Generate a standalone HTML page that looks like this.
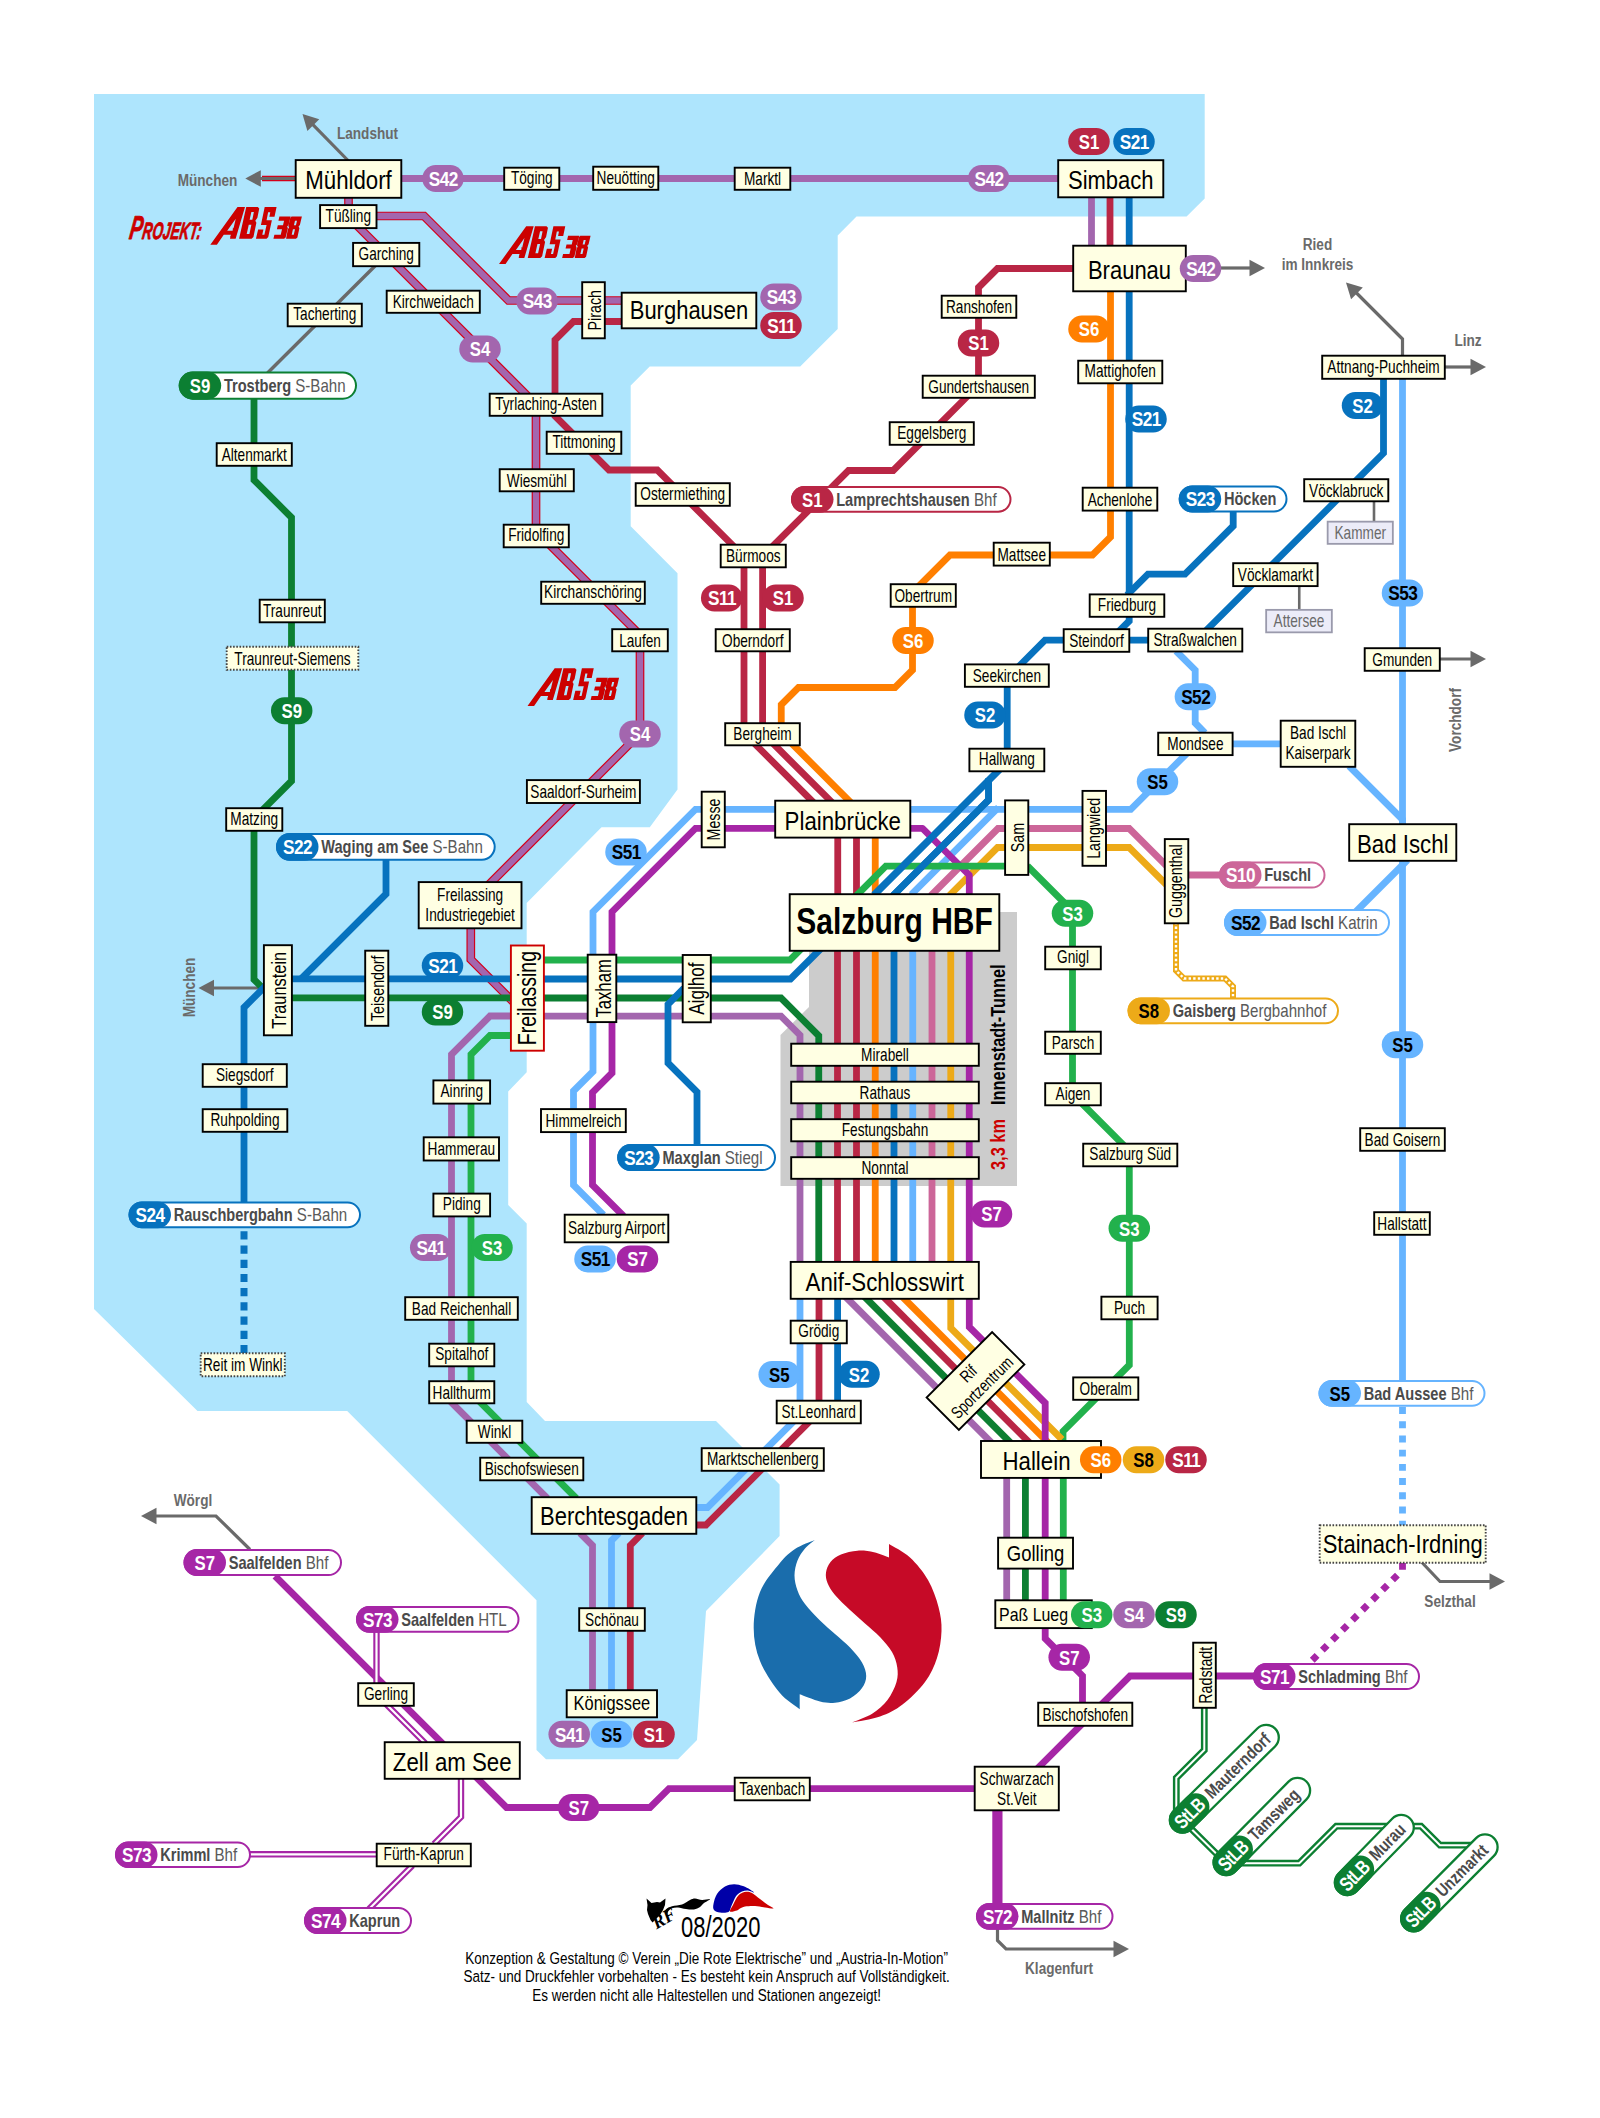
<!DOCTYPE html>
<html><head><meta charset="utf-8"><title>S-Bahn Salzburg</title>
<style>html,body{margin:0;padding:0;background:#fff}svg{display:block}text{font-family:"Liberation Sans",sans-serif}</style>
</head><body>
<svg width="1600" height="2118" viewBox="0 0 1600 2118">
<rect width="1600" height="2118" fill="#fff"/>
<polygon points="94,94 1204.7,94 1204.7,198.5 1186.6,216.5 856.5,216.5 837.7,235.5 837.7,329 800.2,366.5 649.7,366.5 630.7,385.5 630.7,526.3 677.5,573.2 677.5,789.5 649.8,827.3 601.5,827.3 526.7,903 526.7,1072.3 508.2,1091.5 508.2,1205 526.7,1223.5 526.7,1402 545,1421 716,1421 779.6,1484.6 779.6,1536 706,1611 697,1740 678,1759.3 546,1759.3 536.5,1750 536.5,1600.3 347.2,1411 197.5,1411 94,1309" fill="#AEE5FD"/>
<polygon points="809,912 1017,912 1017,1186 780.5,1186 780.5,1035 809,1007" fill="#CCCCCC"/>
<polyline points="376,265 267.5,373" fill="none" stroke="#6A6A6A" stroke-width="3.4" stroke-linejoin="miter" stroke-linecap="butt" />
<polyline points="1299.25,586 1299.25,610" fill="none" stroke="#6A6A6A" stroke-width="2.6" stroke-linejoin="miter" stroke-linecap="butt" />
<polyline points="1374,501 1374,522" fill="none" stroke="#6A6A6A" stroke-width="2.6" stroke-linejoin="miter" stroke-linecap="butt" />
<polyline points="348.5,161 312.64,124.36" fill="none" stroke="#6A6A6A" stroke-width="3.2" stroke-linejoin="miter" stroke-linecap="butt" />
<polygon points="302.5,114 319.27,119.27 307.41,130.88" fill="#6A6A6A"/>
<polyline points="297,178.5 262,178.5" fill="none" stroke="#D4001A" stroke-width="5.4" stroke-linejoin="miter" stroke-linecap="butt" />
<polyline points="297,178.5 259.8,178.5" fill="none" stroke="#6A6A6A" stroke-width="3.2" stroke-linejoin="miter" stroke-linecap="butt" />
<polygon points="245.3,178.5 260.8,170.2 260.8,186.8" fill="#6A6A6A"/>
<polyline points="1220,268 1250.5,268" fill="none" stroke="#6A6A6A" stroke-width="3.2" stroke-linejoin="miter" stroke-linecap="butt" />
<polygon points="1265,268 1249.5,276.3 1249.5,259.7" fill="#6A6A6A"/>
<polyline points="1402.5,356 1402.5,339 1356.25,292.75" fill="none" stroke="#6A6A6A" stroke-width="3.2" stroke-linejoin="miter" stroke-linecap="butt" />
<polygon points="1346,282.5 1362.83,287.59 1351.09,299.33" fill="#6A6A6A"/>
<polyline points="1444,367 1471.5,367" fill="none" stroke="#6A6A6A" stroke-width="3.2" stroke-linejoin="miter" stroke-linecap="butt" />
<polygon points="1486,367 1470.5,375.3 1470.5,358.7" fill="#6A6A6A"/>
<polyline points="1439,659 1471.5,659" fill="none" stroke="#6A6A6A" stroke-width="3.2" stroke-linejoin="miter" stroke-linecap="butt" />
<polygon points="1486,659 1470.5,667.3 1470.5,650.7" fill="#6A6A6A"/>
<polyline points="265,988 213,988" fill="none" stroke="#6A6A6A" stroke-width="3.2" stroke-linejoin="miter" stroke-linecap="butt" />
<polygon points="198.5,988 214,979.7 214,996.3" fill="#6A6A6A"/>
<polyline points="250,1549.5 216,1516 155.5,1516" fill="none" stroke="#6A6A6A" stroke-width="3.2" stroke-linejoin="miter" stroke-linecap="butt" />
<polygon points="141,1516 156.5,1507.7 156.5,1524.3" fill="#6A6A6A"/>
<polyline points="997.5,1928 997.5,1940.5 1006,1949 1114.5,1949" fill="none" stroke="#6A6A6A" stroke-width="3.2" stroke-linejoin="miter" stroke-linecap="butt" />
<polygon points="1129,1949 1113.5,1957.3 1113.5,1940.7" fill="#6A6A6A"/>
<polyline points="1421.5,1562 1440,1581.5 1490.5,1581.5" fill="none" stroke="#6A6A6A" stroke-width="3.2" stroke-linejoin="miter" stroke-linecap="butt" />
<polygon points="1505,1581.5 1489.5,1589.8 1489.5,1573.2" fill="#6A6A6A"/>
<polyline points="400,178.5 1059,178.5" fill="none" stroke="#A366AE" stroke-width="6.8" stroke-linejoin="miter" stroke-linecap="butt" />
<polyline points="348.5,196 348.5,217 536,404.5 536,531 640,635 640,733.5 470.8,902.7 470.8,959.5 527.5,1016.2" fill="none" stroke="#D4001A" stroke-width="8.7" stroke-linejoin="miter" stroke-linecap="butt" />
<polyline points="348.5,196 348.5,217 536,404.5 536,531 640,635 640,733.5 470.8,902.7 470.8,959.5 527.5,1016.2" fill="none" stroke="#A366AE" stroke-width="6.3" stroke-linejoin="miter" stroke-linecap="butt" />
<polyline points="375,216 424,216 508.5,300.5 622,300.5" fill="none" stroke="#D4001A" stroke-width="8.7" stroke-linejoin="miter" stroke-linecap="butt" />
<polyline points="375,216 424,216 508.5,300.5 622,300.5" fill="none" stroke="#A366AE" stroke-width="6.3" stroke-linejoin="miter" stroke-linecap="butt" />
<polyline points="622,321.5 573.5,321.5 555,340 555,416 609,470 657.3,470 734,546.7" fill="none" stroke="#B92645" stroke-width="6.8" stroke-linejoin="miter" stroke-linecap="butt" />
<polyline points="254,398 254,480 291.5,517.5 291.5,781 254,818.5 254,979.5 264,989.5 266,989.5" fill="none" stroke="#0C7F32" stroke-width="6.8" stroke-linejoin="miter" stroke-linecap="butt" />
<polyline points="266,985.5 244,1007.5 244,1203" fill="none" stroke="#0772BE" stroke-width="6.8" stroke-linejoin="miter" stroke-linecap="butt" />
<polyline points="244,1231.3 244,1353" fill="none" stroke="#0772BE" stroke-width="7" stroke-linejoin="miter" stroke-linecap="butt" stroke-dasharray="8.2 6"/>
<polyline points="386,860 386,894 301.5,978.5" fill="none" stroke="#0772BE" stroke-width="6.8" stroke-linejoin="miter" stroke-linecap="butt" />
<polyline points="290,978.8 512,978.8" fill="none" stroke="#0772BE" stroke-width="6.8" stroke-linejoin="miter" stroke-linecap="butt" />
<polyline points="290,997.8 512,997.8" fill="none" stroke="#0C7F32" stroke-width="6.8" stroke-linejoin="miter" stroke-linecap="butt" />
<polyline points="512,1016 490,1016 451.5,1054.5 451.5,1402.5 547.5,1498.5" fill="none" stroke="#A366AE" stroke-width="6.8" stroke-linejoin="miter" stroke-linecap="butt" />
<polyline points="512,1035.5 490,1035.5 471,1054.5 471,1393 576.5,1498.5" fill="none" stroke="#22B14C" stroke-width="6.8" stroke-linejoin="miter" stroke-linecap="butt" />
<polyline points="543,960 790,960 802.5,947.5" fill="none" stroke="#22B14C" stroke-width="6.8" stroke-linejoin="miter" stroke-linecap="butt" />
<polyline points="543,979 790.5,979 823,946.5" fill="none" stroke="#0772BE" stroke-width="6.8" stroke-linejoin="miter" stroke-linecap="butt" />
<polyline points="543,998 781,998 818.75,1035.75 818.75,1262" fill="none" stroke="#0C7F32" stroke-width="6.8" stroke-linejoin="miter" stroke-linecap="butt" />
<polyline points="543,1016.2 781,1016.2 800,1035.2 800,1262" fill="none" stroke="#A366AE" stroke-width="6.8" stroke-linejoin="miter" stroke-linecap="butt" />
<polyline points="684,988 668,1004.5 668,1063 697,1092 697,1146" fill="none" stroke="#0772BE" stroke-width="6.8" stroke-linejoin="miter" stroke-linecap="butt" />
<polyline points="776,809.3 695.5,809.3 593,911.8 593,1071.5 573.5,1091 573.5,1185 603.5,1215" fill="none" stroke="#66B4FF" stroke-width="6.8" stroke-linejoin="miter" stroke-linecap="butt" />
<polyline points="776,828.4 695.5,828.4 612,911.9 612,1073 592.5,1092.5 592.5,1185 623.5,1216" fill="none" stroke="#A626A6" stroke-width="6.8" stroke-linejoin="miter" stroke-linecap="butt" />
<polyline points="1091.5,196 1091.5,246" fill="none" stroke="#A366AE" stroke-width="6.8" stroke-linejoin="miter" stroke-linecap="butt" />
<polyline points="1110,196 1110,246" fill="none" stroke="#B92645" stroke-width="6.8" stroke-linejoin="miter" stroke-linecap="butt" />
<polyline points="1074,268.5 997.5,268.5 978.5,287.5 978.5,385.2 893.2,470.5 848.5,470.5 772.5,546.5" fill="none" stroke="#B92645" stroke-width="6.8" stroke-linejoin="miter" stroke-linecap="butt" />
<polyline points="744,566 744,733 837.75,826.75 837.75,895" fill="none" stroke="#B92645" stroke-width="6.8" stroke-linejoin="miter" stroke-linecap="butt" />
<polyline points="762.6,566 762.6,733 856.5,826.9 856.5,895" fill="none" stroke="#B92645" stroke-width="6.8" stroke-linejoin="miter" stroke-linecap="butt" />
<polyline points="1110.5,290 1110.5,537 1092.5,555 950,555 912.5,592.5 912.5,670 895,687.5 798.5,687.5 781.25,704.75 781.25,733 875.25,827 875.25,895" fill="none" stroke="#FF7F00" stroke-width="6.8" stroke-linejoin="miter" stroke-linecap="butt" />
<polyline points="1129.2,196 1129.2,621 1110,640.2" fill="none" stroke="#0772BE" stroke-width="6.8" stroke-linejoin="miter" stroke-linecap="butt" />
<polyline points="1233.2,511 1233.2,526 1185,574.2 1148,574.2 1127,595.2" fill="none" stroke="#0772BE" stroke-width="6.8" stroke-linejoin="miter" stroke-linecap="butt" />
<polyline points="1383.5,378 1383.5,453.2 1196.5,640.2 1045,640.2 1007.2,678 1007.2,761.8 874,895" fill="none" stroke="#0772BE" stroke-width="6.8" stroke-linejoin="miter" stroke-linecap="butt" />
<polyline points="988.6,778.5 988.6,800 894,894.6 894,900" fill="none" stroke="#0772BE" stroke-width="6.8" stroke-linejoin="miter" stroke-linecap="butt" />
<polyline points="1402.5,378 1402.5,1382" fill="none" stroke="#66B4FF" stroke-width="6.8" stroke-linejoin="miter" stroke-linecap="butt" />
<polyline points="1402.5,1406.8 1402.5,1526" fill="none" stroke="#66B4FF" stroke-width="6.8" stroke-linejoin="miter" stroke-linecap="butt" stroke-dasharray="6.9 7.3" stroke-dashoffset="-0.3"/>
<polyline points="1176,651 1195.2,670.2 1195.2,723 1205,733" fill="none" stroke="#66B4FF" stroke-width="6.8" stroke-linejoin="miter" stroke-linecap="butt" />
<polyline points="1232,743.8 1281,743.8" fill="none" stroke="#66B4FF" stroke-width="6.8" stroke-linejoin="miter" stroke-linecap="butt" />
<polyline points="1349,766 1402.5,819.5 1402.5,826" fill="none" stroke="#66B4FF" stroke-width="6.8" stroke-linejoin="miter" stroke-linecap="butt" />
<polyline points="1407.5,860 1355,912.5" fill="none" stroke="#66B4FF" stroke-width="6.8" stroke-linejoin="miter" stroke-linecap="butt" />
<polyline points="1187.2,753 1130.8,809.4 909,809.4" fill="none" stroke="#66B4FF" stroke-width="6.8" stroke-linejoin="miter" stroke-linecap="butt" />
<polyline points="998.5,807.4 912.75,893.2 912.75,900" fill="none" stroke="#66B4FF" stroke-width="6.8" stroke-linejoin="miter" stroke-linecap="butt" />
<polyline points="1221,875 1175.7,875 1129.2,828.5 998,828.5 932,894.5 932,900" fill="none" stroke="#CC6699" stroke-width="6.8" stroke-linejoin="miter" stroke-linecap="butt" />
<polyline points="1179.2,897.5 1129.2,847.5 997.5,847.5 950.75,894.2 950.75,900" fill="none" stroke="#EDAA18" stroke-width="6.8" stroke-linejoin="miter" stroke-linecap="butt" />
<polyline points="1176,922 1176,970.5 1184,978.5 1225,978.5 1233,986.5 1233,999" fill="none" stroke="#EDAA18" stroke-width="6" stroke-linejoin="miter" stroke-linecap="butt" />
<polyline points="1176,922 1176,970.5 1184,978.5 1225,978.5 1233,986.5 1233,999" fill="none" stroke="#FFFFFF" stroke-width="2.4" stroke-linejoin="miter" stroke-linecap="butt" stroke-dasharray="2.4 2.2"/>
<polyline points="909,828.4 922.5,828.4 969.3,875.2 969.3,900" fill="none" stroke="#A626A6" stroke-width="6.8" stroke-linejoin="round" stroke-linecap="butt" />
<polyline points="1006,866.2 885.8,866.2 856,896" fill="none" stroke="#22B14C" stroke-width="6.8" stroke-linejoin="miter" stroke-linecap="butt" />
<polyline points="1027.5,866 1072.5,911 1072.5,1094 1129.3,1150.8 1129.3,1365 1063,1431.3 1063,1443" fill="none" stroke="#22B14C" stroke-width="6.8" stroke-linejoin="miter" stroke-linecap="butt" />
<polyline points="1007.2,755 1007.2,761.8 874,895" fill="none" stroke="#0772BE" stroke-width="6.8" stroke-linejoin="miter" stroke-linecap="butt" />
<polyline points="988.6,778.5 988.6,800 894,894.6 894,900" fill="none" stroke="#0772BE" stroke-width="6.8" stroke-linejoin="miter" stroke-linecap="butt" />
<polyline points="837.5,950 837.5,1262" fill="none" stroke="#B92645" stroke-width="6.8" stroke-linejoin="miter" stroke-linecap="butt" />
<polyline points="856.5,950 856.5,1262" fill="none" stroke="#B92645" stroke-width="6.8" stroke-linejoin="miter" stroke-linecap="butt" />
<polyline points="875.25,950 875.25,1262" fill="none" stroke="#FF7F00" stroke-width="6.8" stroke-linejoin="miter" stroke-linecap="butt" />
<polyline points="894,950 894,1262" fill="none" stroke="#0772BE" stroke-width="6.8" stroke-linejoin="miter" stroke-linecap="butt" />
<polyline points="912.75,950 912.75,1262" fill="none" stroke="#66B4FF" stroke-width="6.8" stroke-linejoin="miter" stroke-linecap="butt" />
<polyline points="932,950 932,1262" fill="none" stroke="#CC6699" stroke-width="6.8" stroke-linejoin="miter" stroke-linecap="butt" />
<polyline points="950.75,950 950.75,1262" fill="none" stroke="#EDAA18" stroke-width="6.8" stroke-linejoin="miter" stroke-linecap="butt" />
<polyline points="969.25,950 969.25,1262" fill="none" stroke="#A626A6" stroke-width="6.8" stroke-linejoin="miter" stroke-linecap="butt" />
<polyline points="800,1298 800,1415 707.5,1507.5 695,1507.5" fill="none" stroke="#66B4FF" stroke-width="6.8" stroke-linejoin="miter" stroke-linecap="butt" />
<polyline points="819,1298 819,1412 706,1525 695,1525" fill="none" stroke="#B92645" stroke-width="6.8" stroke-linejoin="miter" stroke-linecap="butt" />
<polyline points="837.6,1298 837.6,1402" fill="none" stroke="#0772BE" stroke-width="6.8" stroke-linejoin="miter" stroke-linecap="butt" />
<polyline points="833.8,1285 995.8,1447" fill="none" stroke="#A366AE" stroke-width="6.8" stroke-linejoin="miter" stroke-linecap="butt" />
<polyline points="852.8,1285 1014.8,1447" fill="none" stroke="#0C7F32" stroke-width="6.8" stroke-linejoin="miter" stroke-linecap="butt" />
<polyline points="871.8,1285 1033.8,1447" fill="none" stroke="#B92645" stroke-width="6.8" stroke-linejoin="miter" stroke-linecap="butt" />
<polyline points="890.6,1285 1052.6,1447" fill="none" stroke="#FF7F00" stroke-width="6.8" stroke-linejoin="miter" stroke-linecap="butt" />
<polyline points="950.75,1298 950.75,1328 1062,1439.5" fill="none" stroke="#EDAA18" stroke-width="6.8" stroke-linejoin="miter" stroke-linecap="butt" />
<polyline points="969.3,1298 969.3,1327 1045.2,1403 1045.2,1602" fill="none" stroke="#A626A6" stroke-width="6.8" stroke-linejoin="miter" stroke-linecap="butt" />
<polyline points="1006.7,1477 1006.7,1602" fill="none" stroke="#A366AE" stroke-width="6.8" stroke-linejoin="miter" stroke-linecap="butt" />
<polyline points="1025.4,1477 1025.4,1602" fill="none" stroke="#0C7F32" stroke-width="6.8" stroke-linejoin="miter" stroke-linecap="butt" />
<polyline points="1063.3,1477 1063.3,1602" fill="none" stroke="#22B14C" stroke-width="6.8" stroke-linejoin="miter" stroke-linecap="butt" />
<polyline points="580,1533 592.5,1545.5 592.5,1690" fill="none" stroke="#A366AE" stroke-width="6.8" stroke-linejoin="miter" stroke-linecap="butt" />
<polyline points="619,1533 611.5,1540.5 611.5,1690" fill="none" stroke="#66B4FF" stroke-width="6.8" stroke-linejoin="miter" stroke-linecap="butt" />
<polyline points="642.5,1533 630.3,1545.5 630.3,1690" fill="none" stroke="#B92645" stroke-width="6.8" stroke-linejoin="miter" stroke-linecap="butt" />
<polyline points="1045.2,1626 1045.2,1638.5 1082.5,1675.8 1082.5,1722" fill="none" stroke="#A626A6" stroke-width="6.8" stroke-linejoin="miter" stroke-linecap="butt" />
<polyline points="1254,1676 1130,1676 1018,1788" fill="none" stroke="#A626A6" stroke-width="6.8" stroke-linejoin="miter" stroke-linecap="butt" />
<polyline points="976,1788.7 669,1788.7 650,1807.5 506.5,1807.5 275,1576" fill="none" stroke="#A626A6" stroke-width="6.8" stroke-linejoin="miter" stroke-linecap="butt" />
<polyline points="997.4,1809 997.4,1905" fill="none" stroke="#A626A6" stroke-width="10.2" stroke-linejoin="miter" stroke-linecap="butt" />
<polyline points="1402.5,1563 1402.5,1570 1312,1660.5" fill="none" stroke="#A626A6" stroke-width="6.8" stroke-linejoin="miter" stroke-linecap="butt" stroke-dasharray="6.8 7.4"/>
<polyline points="376.5,1631 376.5,1694.5 425.5,1743.5" fill="none" stroke="#A626A6" stroke-width="6.4" stroke-linejoin="miter" stroke-linecap="butt" />
<polyline points="376.5,1631 376.5,1694.5 425.5,1743.5" fill="none" stroke="#FFFFFF" stroke-width="2.2" stroke-linejoin="miter" stroke-linecap="butt" />
<polyline points="461,1778 461,1817 434,1844" fill="none" stroke="#A626A6" stroke-width="6.4" stroke-linejoin="miter" stroke-linecap="butt" />
<polyline points="461,1778 461,1817 434,1844" fill="none" stroke="#FFFFFF" stroke-width="2.2" stroke-linejoin="miter" stroke-linecap="butt" />
<polyline points="250,1854.3 377,1854.3" fill="none" stroke="#A626A6" stroke-width="6.4" stroke-linejoin="miter" stroke-linecap="butt" />
<polyline points="250,1854.3 377,1854.3" fill="none" stroke="#FFFFFF" stroke-width="2.2" stroke-linejoin="miter" stroke-linecap="butt" />
<polyline points="412.5,1865.5 369,1909" fill="none" stroke="#A626A6" stroke-width="6.4" stroke-linejoin="miter" stroke-linecap="butt" />
<polyline points="412.5,1865.5 369,1909" fill="none" stroke="#FFFFFF" stroke-width="2.2" stroke-linejoin="miter" stroke-linecap="butt" />
<polyline points="1204.3,1707 1204.3,1750 1176.3,1778 1176.3,1814 1226,1863.2 1299.3,1863.2 1336.3,1826.2 1421,1826.2 1440,1845.2 1472,1845.2" fill="none" stroke="#0C7F32" stroke-width="6.8" stroke-linejoin="miter" stroke-linecap="butt" />
<polyline points="1204.3,1707 1204.3,1750 1176.3,1778 1176.3,1814 1226,1863.2 1299.3,1863.2 1336.3,1826.2 1421,1826.2 1440,1845.2 1472,1845.2" fill="none" stroke="#FFFFFF" stroke-width="2" stroke-linejoin="miter" stroke-linecap="butt" />
<rect x="295.7" y="160.1" width="105.6" height="37.7" fill="#FFFFE3" stroke="#000" stroke-width="1.9" />
<text transform="translate(348.5,188.65) scale(0.84,1)" font-size="26.5" text-anchor="middle" fill="#000">Mühldorf</text>
<rect x="504.2" y="167.7" width="55.1" height="22.1" fill="#FFFFE3" stroke="#000" stroke-width="1.9" />
<text transform="translate(531.75,184.18) scale(0.78,1)" font-size="17.5" text-anchor="middle" fill="#000">Töging</text>
<rect x="593.2" y="166.7" width="65.1" height="23.1" fill="#FFFFE3" stroke="#000" stroke-width="1.9" />
<text transform="translate(625.75,183.68) scale(0.78,1)" font-size="17.5" text-anchor="middle" fill="#000">Neuötting</text>
<rect x="734.7" y="167.7" width="55.6" height="22.1" fill="#FFFFE3" stroke="#000" stroke-width="1.9" />
<text transform="translate(762.5,185.14) scale(0.78,1)" font-size="17.5" text-anchor="middle" fill="#000">Marktl</text>
<rect x="320.1" y="205.1" width="56.4" height="23" fill="#FFFFE3" stroke="#000" stroke-width="1.9" />
<text transform="translate(348.3,222.03) scale(0.78,1)" font-size="17.5" text-anchor="middle" fill="#000">Tüßling</text>
<rect x="353.1" y="242.9" width="66.2" height="23.3" fill="#FFFFE3" stroke="#000" stroke-width="1.9" />
<text transform="translate(386.2,259.97) scale(0.78,1)" font-size="17.5" text-anchor="middle" fill="#000">Garching</text>
<rect x="287.7" y="303.7" width="74.1" height="22.6" fill="#FFFFE3" stroke="#000" stroke-width="1.9" />
<text transform="translate(324.75,320.43) scale(0.78,1)" font-size="17.5" text-anchor="middle" fill="#000">Tacherting</text>
<rect x="386.7" y="290.7" width="93.1" height="22.1" fill="#FFFFE3" stroke="#000" stroke-width="1.9" />
<text transform="translate(433.25,308.14) scale(0.78,1)" font-size="17.5" text-anchor="middle" fill="#000">Kirchweidach</text>
<rect x="582.2" y="282.2" width="22.6" height="56.1" fill="#FFFFE3" stroke="#000" stroke-width="1.9" />
<text transform="translate(600.7,310.25) rotate(-90) scale(0.79,1)" font-size="18" text-anchor="middle" fill="#000">Pirach</text>
<rect x="621.7" y="292.7" width="134.6" height="35.6" fill="#FFFFE3" stroke="#000" stroke-width="1.9" />
<text transform="translate(689,318.9) scale(0.83,1)" font-size="26.5" text-anchor="middle" fill="#000">Burghausen</text>
<rect x="489.7" y="393.7" width="112.6" height="22.1" fill="#FFFFE3" stroke="#000" stroke-width="1.9" />
<text transform="translate(546,410.18) scale(0.78,1)" font-size="17.5" text-anchor="middle" fill="#000">Tyrlaching-Asten</text>
<rect x="546.7" y="431.7" width="74.6" height="22.1" fill="#FFFFE3" stroke="#000" stroke-width="1.9" />
<text transform="translate(584,448.18) scale(0.78,1)" font-size="17.5" text-anchor="middle" fill="#000">Tittmoning</text>
<rect x="499.7" y="469.2" width="74.1" height="22.1" fill="#FFFFE3" stroke="#000" stroke-width="1.9" />
<text transform="translate(536.75,486.64) scale(0.78,1)" font-size="17.5" text-anchor="middle" fill="#000">Wiesmühl</text>
<rect x="503.7" y="524.7" width="65.1" height="22.6" fill="#FFFFE3" stroke="#000" stroke-width="1.9" />
<text transform="translate(536.25,541.42) scale(0.78,1)" font-size="17.5" text-anchor="middle" fill="#000">Fridolfing</text>
<rect x="541.2" y="581.7" width="103.6" height="22.1" fill="#FFFFE3" stroke="#000" stroke-width="1.9" />
<text transform="translate(593,598.17) scale(0.78,1)" font-size="17.5" text-anchor="middle" fill="#000">Kirchanschöring</text>
<rect x="612.2" y="629.2" width="55.6" height="22.1" fill="#FFFFE3" stroke="#000" stroke-width="1.9" />
<text transform="translate(640,646.64) scale(0.78,1)" font-size="17.5" text-anchor="middle" fill="#000">Laufen</text>
<rect x="635.7" y="483.2" width="94.1" height="22.6" fill="#FFFFE3" stroke="#000" stroke-width="1.9" />
<text transform="translate(682.75,499.93) scale(0.78,1)" font-size="17.5" text-anchor="middle" fill="#000">Ostermiething</text>
<rect x="720.7" y="544.7" width="65.1" height="22.6" fill="#FFFFE3" stroke="#000" stroke-width="1.9" />
<text transform="translate(753.25,562.39) scale(0.78,1)" font-size="17.5" text-anchor="middle" fill="#000">Bürmoos</text>
<rect x="715.7" y="629.2" width="74.1" height="22.1" fill="#FFFFE3" stroke="#000" stroke-width="1.9" />
<text transform="translate(752.75,646.64) scale(0.78,1)" font-size="17.5" text-anchor="middle" fill="#000">Oberndorf</text>
<rect x="725.2" y="723.2" width="74.6" height="22.1" fill="#FFFFE3" stroke="#000" stroke-width="1.9" />
<text transform="translate(762.5,739.67) scale(0.78,1)" font-size="17.5" text-anchor="middle" fill="#000">Bergheim</text>
<rect x="526.9" y="780.1" width="113" height="22.9" fill="#FFFFE3" stroke="#000" stroke-width="1.9" />
<text transform="translate(583.4,797.94) scale(0.78,1)" font-size="17.5" text-anchor="middle" fill="#000">Saaldorf-Surheim</text>
<rect x="418.7" y="882.1" width="102.8" height="46.2" fill="#FFFFE3" stroke="#000" stroke-width="1.9" />
<text transform="translate(470.1,900.69) scale(0.78,1)" font-size="17.5" text-anchor="middle" fill="#000">Freilassing</text>
<text transform="translate(470.1,920.56) scale(0.78,1)" font-size="17.5" text-anchor="middle" fill="#000">Industriegebiet</text>
<rect x="216.7" y="443.2" width="75.1" height="22.6" fill="#FFFFE3" stroke="#000" stroke-width="1.9" />
<text transform="translate(254.25,460.89) scale(0.78,1)" font-size="17.5" text-anchor="middle" fill="#000">Altenmarkt</text>
<rect x="259.7" y="599.7" width="65.1" height="22.6" fill="#FFFFE3" stroke="#000" stroke-width="1.9" />
<text transform="translate(292.25,617.39) scale(0.78,1)" font-size="17.5" text-anchor="middle" fill="#000">Traunreut</text>
<rect x="226.7" y="646.7" width="131.6" height="23.1" fill="#FFFFE3" stroke="#444" stroke-width="1.9" stroke-dasharray="1.6 1.6"/>
<text transform="translate(292.5,664.64) scale(0.78,1)" font-size="17.5" text-anchor="middle" fill="#000">Traunreut-Siemens</text>
<rect x="226.2" y="808.2" width="56.1" height="22.6" fill="#FFFFE3" stroke="#000" stroke-width="1.9" />
<text transform="translate(254.25,824.92) scale(0.78,1)" font-size="17.5" text-anchor="middle" fill="#000">Matzing</text>
<rect x="263.9" y="945.2" width="28" height="90.1" fill="#FFFFE3" stroke="#000" stroke-width="1.9" />
<text transform="translate(286.3,990.25) rotate(-90) scale(0.78,1)" font-size="21" text-anchor="middle" fill="#000">Traunstein</text>
<rect x="365.2" y="950.7" width="23.1" height="75.1" fill="#FFFFE3" stroke="#000" stroke-width="1.9" />
<text transform="translate(383.95,988.25) rotate(-90) scale(0.79,1)" font-size="18" text-anchor="middle" fill="#000">Teisendorf</text>
<rect x="510.9" y="945.5" width="33" height="105.2" fill="#FFFFE3" stroke="#CC0000" stroke-width="1.9" />
<text transform="translate(536.02,998.1) rotate(-90) scale(0.78,1)" font-size="25" text-anchor="middle" fill="#000">Freilassing</text>
<rect x="587.7" y="954.7" width="28.6" height="67.4" fill="#FFFFE3" stroke="#000" stroke-width="1.9" />
<text transform="translate(610.56,988.4) rotate(-90) scale(0.78,1)" font-size="21.4" text-anchor="middle" fill="#000">Taxham</text>
<rect x="682.7" y="955" width="28.1" height="67.3" fill="#FFFFE3" stroke="#000" stroke-width="1.9" />
<text transform="translate(704.13,988.65) rotate(-90) scale(0.8,1)" font-size="21.4" text-anchor="middle" fill="#000">Aiglhof</text>
<rect x="202.7" y="1064.2" width="84.1" height="22.6" fill="#FFFFE3" stroke="#000" stroke-width="1.9" />
<text transform="translate(244.75,1080.92) scale(0.78,1)" font-size="17.5" text-anchor="middle" fill="#000">Siegsdorf</text>
<rect x="202.7" y="1109.2" width="84.6" height="22.6" fill="#FFFFE3" stroke="#000" stroke-width="1.9" />
<text transform="translate(245,1125.92) scale(0.78,1)" font-size="17.5" text-anchor="middle" fill="#000">Ruhpolding</text>
<rect x="200.7" y="1353.2" width="84.1" height="23.1" fill="#FFFFE3" stroke="#444" stroke-width="1.9" stroke-dasharray="1.6 1.6"/>
<text transform="translate(242.75,1371.14) scale(0.78,1)" font-size="17.5" text-anchor="middle" fill="#000">Reit im Winkl</text>
<rect x="433.4" y="1080.4" width="56.7" height="23.2" fill="#FFFFE3" stroke="#000" stroke-width="1.9" />
<text transform="translate(461.75,1097.42) scale(0.78,1)" font-size="17.5" text-anchor="middle" fill="#000">Ainring</text>
<rect x="423.7" y="1137.3" width="75.3" height="23.2" fill="#FFFFE3" stroke="#000" stroke-width="1.9" />
<text transform="translate(461.35,1155.29) scale(0.78,1)" font-size="17.5" text-anchor="middle" fill="#000">Hammerau</text>
<rect x="433.4" y="1193.6" width="56.7" height="22.8" fill="#FFFFE3" stroke="#000" stroke-width="1.9" />
<text transform="translate(461.75,1210.42) scale(0.78,1)" font-size="17.5" text-anchor="middle" fill="#000">Piding</text>
<rect x="405.2" y="1297.2" width="112.6" height="22.6" fill="#FFFFE3" stroke="#000" stroke-width="1.9" />
<text transform="translate(461.5,1314.89) scale(0.78,1)" font-size="17.5" text-anchor="middle" fill="#000">Bad Reichenhall</text>
<rect x="429.2" y="1343.7" width="65.1" height="22.6" fill="#FFFFE3" stroke="#000" stroke-width="1.9" />
<text transform="translate(461.75,1360.42) scale(0.78,1)" font-size="17.5" text-anchor="middle" fill="#000">Spitalhof</text>
<rect x="429.2" y="1381.2" width="65.1" height="22.1" fill="#FFFFE3" stroke="#000" stroke-width="1.9" />
<text transform="translate(461.75,1398.64) scale(0.78,1)" font-size="17.5" text-anchor="middle" fill="#000">Hallthurm</text>
<rect x="466.7" y="1420.7" width="55.6" height="22.1" fill="#FFFFE3" stroke="#000" stroke-width="1.9" />
<text transform="translate(494.5,1438.14) scale(0.78,1)" font-size="17.5" text-anchor="middle" fill="#000">Winkl</text>
<rect x="480.2" y="1457.7" width="103.1" height="22.6" fill="#FFFFE3" stroke="#000" stroke-width="1.9" />
<text transform="translate(531.75,1475.39) scale(0.78,1)" font-size="17.5" text-anchor="middle" fill="#000">Bischofswiesen</text>
<rect x="531.7" y="1497.2" width="164.6" height="36.6" fill="#FFFFE3" stroke="#000" stroke-width="1.9" />
<text transform="translate(614,1525.2) scale(0.83,1)" font-size="26.5" text-anchor="middle" fill="#000">Berchtesgaden</text>
<rect x="579.2" y="1608.2" width="65.6" height="22.6" fill="#FFFFE3" stroke="#000" stroke-width="1.9" />
<text transform="translate(612,1625.89) scale(0.78,1)" font-size="17.5" text-anchor="middle" fill="#000">Schönau</text>
<rect x="566.7" y="1690.2" width="90.3" height="27.1" fill="#FFFFE3" stroke="#000" stroke-width="1.9" />
<text transform="translate(611.85,1710.05) scale(0.8,1)" font-size="20.5" text-anchor="middle" fill="#000">Königssee</text>
<rect x="541" y="1109.1" width="84.8" height="23" fill="#FFFFE3" stroke="#000" stroke-width="1.9" />
<text transform="translate(583.4,1126.99) scale(0.78,1)" font-size="17.5" text-anchor="middle" fill="#000">Himmelreich</text>
<rect x="564.7" y="1214.7" width="103.6" height="27.6" fill="#FFFFE3" stroke="#000" stroke-width="1.9" />
<text transform="translate(616.5,1233.92) scale(0.78,1)" font-size="17.5" text-anchor="middle" fill="#000">Salzburg Airport</text>
<rect x="701.7" y="791.7" width="23.1" height="55.6" fill="#FFFFE3" stroke="#000" stroke-width="1.9" />
<text transform="translate(720.45,819.5) rotate(-90) scale(0.79,1)" font-size="18" text-anchor="middle" fill="#000">Messe</text>
<rect x="775.2" y="800.7" width="135.1" height="36.9" fill="#FFFFE3" stroke="#000" stroke-width="1.9" />
<text transform="translate(842.75,829.75) scale(0.84,1)" font-size="26.5" text-anchor="middle" fill="#000">Plainbrücke</text>
<rect x="789.7" y="894.2" width="209.6" height="56.6" fill="#FFFFE3" stroke="#000" stroke-width="1.9" />
<text transform="translate(894.5,934.1) scale(0.81,1)" font-size="37" text-anchor="middle" fill="#000" font-weight="bold">Salzburg HBF</text>
<rect x="791.2" y="1043.7" width="187.6" height="22.1" fill="#FFFFE3" stroke="#000" stroke-width="1.9" />
<text transform="translate(885,1061.14) scale(0.78,1)" font-size="17.5" text-anchor="middle" fill="#000">Mirabell</text>
<rect x="791.2" y="1081.7" width="187.6" height="21.6" fill="#FFFFE3" stroke="#000" stroke-width="1.9" />
<text transform="translate(885,1098.89) scale(0.78,1)" font-size="17.5" text-anchor="middle" fill="#000">Rathaus</text>
<rect x="791.2" y="1119.2" width="187.6" height="22.1" fill="#FFFFE3" stroke="#000" stroke-width="1.9" />
<text transform="translate(885,1135.67) scale(0.78,1)" font-size="17.5" text-anchor="middle" fill="#000">Festungsbahn</text>
<rect x="791.2" y="1157.2" width="187.6" height="21.6" fill="#FFFFE3" stroke="#000" stroke-width="1.9" />
<text transform="translate(885,1174.39) scale(0.78,1)" font-size="17.5" text-anchor="middle" fill="#000">Nonntal</text>
<rect x="790.7" y="1261.9" width="188.1" height="36.9" fill="#FFFFE3" stroke="#000" stroke-width="1.9" />
<text transform="translate(884.75,1290.95) scale(0.84,1)" font-size="26.5" text-anchor="middle" fill="#000">Anif-Schlosswirt</text>
<rect x="790.7" y="1320.7" width="56.1" height="22.6" fill="#FFFFE3" stroke="#000" stroke-width="1.9" />
<text transform="translate(818.75,1337.42) scale(0.78,1)" font-size="17.5" text-anchor="middle" fill="#000">Grödig</text>
<rect x="776.7" y="1400.7" width="84.1" height="22.6" fill="#FFFFE3" stroke="#000" stroke-width="1.9" />
<text transform="translate(818.75,1418.39) scale(0.78,1)" font-size="17.5" text-anchor="middle" fill="#000">St.Leonhard</text>
<rect x="701.7" y="1448.2" width="122.1" height="22.6" fill="#FFFFE3" stroke="#000" stroke-width="1.9" />
<text transform="translate(762.75,1464.92) scale(0.78,1)" font-size="17.5" text-anchor="middle" fill="#000">Marktschellenberg</text>
<g transform="translate(975.5,1381) rotate(-45)">
<rect x="-46.3" y="-22.8" width="92.6" height="45.6" fill="#FFFFE3" stroke="#000" stroke-width="1.9" />
<text transform="translate(0,-4.42) scale(0.78,1)" font-size="17" text-anchor="middle" fill="#000">Rif</text>
<text transform="translate(0,14.96) scale(0.78,1)" font-size="17" text-anchor="middle" fill="#000">Sportzentrum</text>
</g>
<rect x="981" y="1441" width="120" height="36.9" fill="#FFFFE3" stroke="#000" stroke-width="1.9" />
<text transform="translate(1036.5,1469.65) scale(0.84,1)" font-size="26.5" text-anchor="middle" fill="#000">Hallein</text>
<rect x="998.1" y="1537.7" width="74.9" height="30.9" fill="#FFFFE3" stroke="#000" stroke-width="1.9" />
<text transform="translate(1035.55,1560.65) scale(0.86,1)" font-size="21.5" text-anchor="middle" fill="#000">Golling</text>
<rect x="995.3" y="1600.3" width="96.5" height="27.8" fill="#FFFFE3" stroke="#000" stroke-width="1.9" />
<text transform="translate(1033.55,1620.7) scale(0.91,1)" font-size="17.5" text-anchor="middle" fill="#000">Paß Lueg</text>
<rect x="1058.2" y="160.2" width="105.1" height="37.1" fill="#FFFFE3" stroke="#000" stroke-width="1.9" />
<text transform="translate(1110.75,189.35) scale(0.83,1)" font-size="26.5" text-anchor="middle" fill="#000">Simbach</text>
<rect x="1073.2" y="245.7" width="112.6" height="45.6" fill="#FFFFE3" stroke="#000" stroke-width="1.9" />
<text transform="translate(1129.5,279.1) scale(0.83,1)" font-size="26.5" text-anchor="middle" fill="#000">Braunau</text>
<rect x="941.7" y="295.7" width="74.6" height="22.1" fill="#FFFFE3" stroke="#000" stroke-width="1.9" />
<text transform="translate(979,313.14) scale(0.78,1)" font-size="17.5" text-anchor="middle" fill="#000">Ranshofen</text>
<rect x="922.7" y="375.7" width="112.1" height="22.1" fill="#FFFFE3" stroke="#000" stroke-width="1.9" />
<text transform="translate(978.75,393.14) scale(0.78,1)" font-size="17.5" text-anchor="middle" fill="#000">Gundertshausen</text>
<rect x="889.7" y="422.2" width="84.1" height="22.6" fill="#FFFFE3" stroke="#000" stroke-width="1.9" />
<text transform="translate(931.75,438.93) scale(0.78,1)" font-size="17.5" text-anchor="middle" fill="#000">Eggelsberg</text>
<rect x="1078.2" y="360.7" width="84.1" height="22.6" fill="#FFFFE3" stroke="#000" stroke-width="1.9" />
<text transform="translate(1120.25,377.43) scale(0.78,1)" font-size="17.5" text-anchor="middle" fill="#000">Mattighofen</text>
<rect x="1082.7" y="487.7" width="74.6" height="22.9" fill="#FFFFE3" stroke="#000" stroke-width="1.9" />
<text transform="translate(1120,505.54) scale(0.78,1)" font-size="17.5" text-anchor="middle" fill="#000">Achenlohe</text>
<rect x="993.7" y="542.7" width="56.1" height="22.9" fill="#FFFFE3" stroke="#000" stroke-width="1.9" />
<text transform="translate(1021.75,560.54) scale(0.78,1)" font-size="17.5" text-anchor="middle" fill="#000">Mattsee</text>
<rect x="890.7" y="584.2" width="65.1" height="22.6" fill="#FFFFE3" stroke="#000" stroke-width="1.9" />
<text transform="translate(923.25,601.89) scale(0.78,1)" font-size="17.5" text-anchor="middle" fill="#000">Obertrum</text>
<rect x="1089.7" y="594.4" width="74.6" height="22.4" fill="#FFFFE3" stroke="#000" stroke-width="1.9" />
<text transform="translate(1127,611.02) scale(0.78,1)" font-size="17.5" text-anchor="middle" fill="#000">Friedburg</text>
<rect x="1063.7" y="629.2" width="65.6" height="22.6" fill="#FFFFE3" stroke="#000" stroke-width="1.9" />
<text transform="translate(1096.5,646.89) scale(0.78,1)" font-size="17.5" text-anchor="middle" fill="#000">Steindorf</text>
<rect x="1148.2" y="628.7" width="94.1" height="22.8" fill="#FFFFE3" stroke="#000" stroke-width="1.9" />
<text transform="translate(1195.25,646.49) scale(0.78,1)" font-size="17.5" text-anchor="middle" fill="#000">Straßwalchen</text>
<rect x="964.9" y="664.4" width="83.9" height="22.4" fill="#FFFFE3" stroke="#000" stroke-width="1.9" />
<text transform="translate(1006.85,681.99) scale(0.78,1)" font-size="17.5" text-anchor="middle" fill="#000">Seekirchen</text>
<rect x="969.4" y="748.7" width="74.9" height="22.6" fill="#FFFFE3" stroke="#000" stroke-width="1.9" />
<text transform="translate(1006.85,765.42) scale(0.78,1)" font-size="17.5" text-anchor="middle" fill="#000">Hallwang</text>
<rect x="1005.1" y="800.4" width="23.2" height="74.5" fill="#FFFFE3" stroke="#000" stroke-width="1.9" />
<text transform="translate(1023.9,837.65) rotate(-90) scale(0.79,1)" font-size="18" text-anchor="middle" fill="#000">Sam</text>
<rect x="1082.5" y="790.9" width="23.5" height="74.9" fill="#FFFFE3" stroke="#000" stroke-width="1.9" />
<text transform="translate(1099.65,828.35) rotate(-90) scale(0.79,1)" font-size="18" text-anchor="middle" fill="#000">Langwied</text>
<rect x="1164.8" y="839.1" width="23.5" height="84.2" fill="#FFFFE3" stroke="#000" stroke-width="1.9" />
<text transform="translate(1181.95,881.2) rotate(-90) scale(0.79,1)" font-size="18" text-anchor="middle" fill="#000">Guggenthal</text>
<rect x="1045.2" y="946.7" width="55.6" height="22.6" fill="#FFFFE3" stroke="#000" stroke-width="1.9" />
<text transform="translate(1073,963.42) scale(0.78,1)" font-size="17.5" text-anchor="middle" fill="#000">Gnigl</text>
<rect x="1045.2" y="1031.7" width="55.6" height="22.1" fill="#FFFFE3" stroke="#000" stroke-width="1.9" />
<text transform="translate(1073,1049.14) scale(0.78,1)" font-size="17.5" text-anchor="middle" fill="#000">Parsch</text>
<rect x="1045.2" y="1083.2" width="55.6" height="22.1" fill="#FFFFE3" stroke="#000" stroke-width="1.9" />
<text transform="translate(1073,1099.67) scale(0.78,1)" font-size="17.5" text-anchor="middle" fill="#000">Aigen</text>
<rect x="1083.2" y="1143.7" width="94.1" height="22.6" fill="#FFFFE3" stroke="#000" stroke-width="1.9" />
<text transform="translate(1130.25,1160.42) scale(0.78,1)" font-size="17.5" text-anchor="middle" fill="#000">Salzburg Süd</text>
<rect x="1101.4" y="1296.7" width="56.2" height="22.6" fill="#FFFFE3" stroke="#000" stroke-width="1.9" />
<text transform="translate(1129.5,1314.39) scale(0.78,1)" font-size="17.5" text-anchor="middle" fill="#000">Puch</text>
<rect x="1073.2" y="1377.4" width="65.1" height="22.4" fill="#FFFFE3" stroke="#000" stroke-width="1.9" />
<text transform="translate(1105.75,1394.99) scale(0.78,1)" font-size="17.5" text-anchor="middle" fill="#000">Oberalm</text>
<rect x="1322.2" y="355.7" width="122.6" height="23.1" fill="#FFFFE3" stroke="#000" stroke-width="1.9" />
<text transform="translate(1383.5,372.68) scale(0.78,1)" font-size="17.5" text-anchor="middle" fill="#000">Attnang-Puchheim</text>
<rect x="1304.2" y="479.2" width="84.1" height="22.1" fill="#FFFFE3" stroke="#000" stroke-width="1.9" />
<text transform="translate(1346.25,496.64) scale(0.78,1)" font-size="17.5" text-anchor="middle" fill="#000">Vöcklabruck</text>
<rect x="1327.65" y="521.65" width="65.2" height="22.2" fill="#ECECF8" stroke="#9A9AAC" stroke-width="1.8" />
<text transform="translate(1360.25,539.14) scale(0.78,1)" font-size="17.5" text-anchor="middle" fill="#6A6A6A">Kammer</text>
<rect x="1233.2" y="563.2" width="84.4" height="22.9" fill="#FFFFE3" stroke="#000" stroke-width="1.9" />
<text transform="translate(1275.4,581.04) scale(0.78,1)" font-size="17.5" text-anchor="middle" fill="#000">Vöcklamarkt</text>
<rect x="1266.15" y="609.85" width="65.7" height="22.5" fill="#ECECF8" stroke="#9A9AAC" stroke-width="1.8" />
<text transform="translate(1299,627.49) scale(0.78,1)" font-size="17.5" text-anchor="middle" fill="#6A6A6A">Attersee</text>
<rect x="1364.7" y="648.2" width="75.1" height="22.6" fill="#FFFFE3" stroke="#000" stroke-width="1.9" />
<text transform="translate(1402.25,665.89) scale(0.78,1)" font-size="17.5" text-anchor="middle" fill="#000">Gmunden</text>
<rect x="1158.2" y="732.7" width="74.4" height="22.4" fill="#FFFFE3" stroke="#000" stroke-width="1.9" />
<text transform="translate(1195.4,750.29) scale(0.78,1)" font-size="17.5" text-anchor="middle" fill="#000">Mondsee</text>
<rect x="1280.7" y="720.7" width="74.6" height="46.1" fill="#FFFFE3" stroke="#000" stroke-width="1.9" />
<text transform="translate(1318,739.24) scale(0.78,1)" font-size="17.5" text-anchor="middle" fill="#000">Bad Ischl</text>
<text transform="translate(1318,759.11) scale(0.78,1)" font-size="17.5" text-anchor="middle" fill="#000">Kaiserpark</text>
<rect x="1349.2" y="824.2" width="107.1" height="36.6" fill="#FFFFE3" stroke="#000" stroke-width="1.9" />
<text transform="translate(1402.75,853.1) scale(0.84,1)" font-size="26.5" text-anchor="middle" fill="#000">Bad Ischl</text>
<rect x="1360.2" y="1128.2" width="84.6" height="22.6" fill="#FFFFE3" stroke="#000" stroke-width="1.9" />
<text transform="translate(1402.5,1145.89) scale(0.78,1)" font-size="17.5" text-anchor="middle" fill="#000">Bad Goisern</text>
<rect x="1374.2" y="1212.2" width="55.6" height="22.6" fill="#FFFFE3" stroke="#000" stroke-width="1.9" />
<text transform="translate(1402,1229.89) scale(0.78,1)" font-size="17.5" text-anchor="middle" fill="#000">Hallstatt</text>
<rect x="1319.7" y="1525.2" width="166" height="37.6" fill="#FFFFE3" stroke="#444" stroke-width="1.9" stroke-dasharray="1.6 1.6"/>
<text transform="translate(1402.7,1553) scale(0.83,1)" font-size="26.5" text-anchor="middle" fill="#000">Stainach-Irdning</text>
<rect x="358.2" y="1683.2" width="55.6" height="22.6" fill="#FFFFE3" stroke="#000" stroke-width="1.9" />
<text transform="translate(386,1699.92) scale(0.78,1)" font-size="17.5" text-anchor="middle" fill="#000">Gerling</text>
<rect x="384.7" y="1742.2" width="135.1" height="36.6" fill="#FFFFE3" stroke="#000" stroke-width="1.9" />
<text transform="translate(452.25,1771.1) scale(0.84,1)" font-size="26.5" text-anchor="middle" fill="#000">Zell am See</text>
<rect x="376.7" y="1843.7" width="94.1" height="22.6" fill="#FFFFE3" stroke="#000" stroke-width="1.9" />
<text transform="translate(423.75,1860.42) scale(0.78,1)" font-size="17.5" text-anchor="middle" fill="#000">Fürth-Kaprun</text>
<rect x="734.7" y="1777.7" width="75.1" height="22.6" fill="#FFFFE3" stroke="#000" stroke-width="1.9" />
<text transform="translate(772.25,1795.39) scale(0.78,1)" font-size="17.5" text-anchor="middle" fill="#000">Taxenbach</text>
<rect x="974.7" y="1766.7" width="84.1" height="43.6" fill="#FFFFE3" stroke="#000" stroke-width="1.9" />
<text transform="translate(1016.75,1784.96) scale(0.78,1)" font-size="17.5" text-anchor="middle" fill="#000">Schwarzach</text>
<text transform="translate(1016.75,1804.82) scale(0.78,1)" font-size="17.5" text-anchor="middle" fill="#000">St.Veit</text>
<rect x="1038.2" y="1702.7" width="94.1" height="23.1" fill="#FFFFE3" stroke="#000" stroke-width="1.9" />
<text transform="translate(1085.25,1720.64) scale(0.78,1)" font-size="17.5" text-anchor="middle" fill="#000">Bischofshofen</text>
<rect x="1193.2" y="1642.7" width="22.6" height="65.1" fill="#FFFFE3" stroke="#000" stroke-width="1.9" />
<text transform="translate(1211.7,1675.25) rotate(-90) scale(0.79,1)" font-size="18" text-anchor="middle" fill="#000">Radstadt</text>
<rect x="422.25" y="165" width="41.5" height="27" rx="13.5" fill="#A366AE"/>
<text transform="translate(443.3,185.96) scale(0.82,1)" font-size="21" text-anchor="middle" fill="#FFF" font-weight="bold" letter-spacing="-0.6">S42</text>
<rect x="967.95" y="165" width="41.5" height="27" rx="13.5" fill="#A366AE"/>
<text transform="translate(989,185.96) scale(0.82,1)" font-size="21" text-anchor="middle" fill="#FFF" font-weight="bold" letter-spacing="-0.6">S42</text>
<rect x="1068.25" y="128" width="41.5" height="27" rx="13.5" fill="#B92645"/>
<text transform="translate(1089,148.96) scale(0.8,1)" font-size="21" text-anchor="middle" fill="#FFF" font-weight="bold">S1</text>
<rect x="1113.25" y="128" width="41.5" height="27" rx="13.5" fill="#0772BE"/>
<text transform="translate(1134.3,148.96) scale(0.82,1)" font-size="21" text-anchor="middle" fill="#FFF" font-weight="bold" letter-spacing="-0.6">S21</text>
<rect x="1179.75" y="255" width="41.5" height="27" rx="13.5" fill="#A366AE"/>
<text transform="translate(1200.8,275.95) scale(0.82,1)" font-size="21" text-anchor="middle" fill="#FFF" font-weight="bold" letter-spacing="-0.6">S42</text>
<rect x="516.25" y="287.5" width="41.5" height="27" rx="13.5" fill="#A366AE"/>
<text transform="translate(537.3,308.45) scale(0.82,1)" font-size="21" text-anchor="middle" fill="#FFF" font-weight="bold" letter-spacing="-0.6">S43</text>
<rect x="760.25" y="283.5" width="41.5" height="27" rx="13.5" fill="#A366AE"/>
<text transform="translate(781.3,304.45) scale(0.82,1)" font-size="21" text-anchor="middle" fill="#FFF" font-weight="bold" letter-spacing="-0.6">S43</text>
<rect x="760.25" y="312" width="41.5" height="27" rx="13.5" fill="#B92645"/>
<text transform="translate(781.3,332.95) scale(0.82,1)" font-size="21" text-anchor="middle" fill="#FFF" font-weight="bold" letter-spacing="-0.6">S11</text>
<rect x="459.25" y="335.5" width="41.5" height="27" rx="13.5" fill="#A366AE"/>
<text transform="translate(480,356.45) scale(0.8,1)" font-size="21" text-anchor="middle" fill="#FFF" font-weight="bold">S4</text>
<rect x="619.25" y="720.5" width="41.5" height="27" rx="13.5" fill="#A366AE"/>
<text transform="translate(640,741.46) scale(0.8,1)" font-size="21" text-anchor="middle" fill="#FFF" font-weight="bold">S4</text>
<rect x="700.95" y="584.5" width="41.5" height="27" rx="13.5" fill="#B92645"/>
<text transform="translate(722,605.46) scale(0.82,1)" font-size="21" text-anchor="middle" fill="#FFF" font-weight="bold" letter-spacing="-0.6">S11</text>
<rect x="762.25" y="584.5" width="41.5" height="27" rx="13.5" fill="#B92645"/>
<text transform="translate(783,605.46) scale(0.8,1)" font-size="21" text-anchor="middle" fill="#FFF" font-weight="bold">S1</text>
<rect x="957.75" y="329.5" width="41.5" height="27" rx="13.5" fill="#B92645"/>
<text transform="translate(978.5,350.45) scale(0.8,1)" font-size="21" text-anchor="middle" fill="#FFF" font-weight="bold">S1</text>
<rect x="1068.25" y="315.5" width="41.5" height="27" rx="13.5" fill="#FF7F00"/>
<text transform="translate(1089,336.45) scale(0.8,1)" font-size="21" text-anchor="middle" fill="#FFF" font-weight="bold">S6</text>
<rect x="892.25" y="627" width="41.5" height="27" rx="13.5" fill="#FF7F00"/>
<text transform="translate(913,647.96) scale(0.8,1)" font-size="21" text-anchor="middle" fill="#FFF" font-weight="bold">S6</text>
<rect x="1125.25" y="405.5" width="41.5" height="27" rx="13.5" fill="#0772BE"/>
<text transform="translate(1146.3,426.45) scale(0.82,1)" font-size="21" text-anchor="middle" fill="#FFF" font-weight="bold" letter-spacing="-0.6">S21</text>
<rect x="1341.75" y="392" width="41.5" height="27" rx="13.5" fill="#0772BE"/>
<text transform="translate(1362.5,412.95) scale(0.8,1)" font-size="21" text-anchor="middle" fill="#FFF" font-weight="bold">S2</text>
<rect x="1381.75" y="579.5" width="41.5" height="27" rx="13.5" fill="#66B4FF"/>
<text transform="translate(1402.8,600.46) scale(0.82,1)" font-size="21" text-anchor="middle" fill="#000" font-weight="bold" letter-spacing="-0.6">S53</text>
<rect x="1174.65" y="683.2" width="41.5" height="27" rx="13.5" fill="#66B4FF"/>
<text transform="translate(1195.7,704.16) scale(0.82,1)" font-size="21" text-anchor="middle" fill="#000" font-weight="bold" letter-spacing="-0.6">S52</text>
<rect x="1136.75" y="768.2" width="41.5" height="27" rx="13.5" fill="#66B4FF"/>
<text transform="translate(1157.5,789.16) scale(0.8,1)" font-size="21" text-anchor="middle" fill="#000" font-weight="bold">S5</text>
<rect x="964.25" y="701.5" width="41.5" height="27" rx="13.5" fill="#0772BE"/>
<text transform="translate(985,722.46) scale(0.8,1)" font-size="21" text-anchor="middle" fill="#FFF" font-weight="bold">S2</text>
<rect x="270.95" y="697.2" width="41.5" height="27" rx="13.5" fill="#0C7F32"/>
<text transform="translate(291.7,718.16) scale(0.8,1)" font-size="21" text-anchor="middle" fill="#FFF" font-weight="bold">S9</text>
<rect x="421.75" y="952" width="41.5" height="27" rx="13.5" fill="#0772BE"/>
<text transform="translate(442.8,972.96) scale(0.82,1)" font-size="21" text-anchor="middle" fill="#FFF" font-weight="bold" letter-spacing="-0.6">S21</text>
<rect x="421.75" y="998.5" width="41.5" height="27" rx="13.5" fill="#0C7F32"/>
<text transform="translate(442.5,1019.46) scale(0.8,1)" font-size="21" text-anchor="middle" fill="#FFF" font-weight="bold">S9</text>
<rect x="605.25" y="838.5" width="41.5" height="27" rx="13.5" fill="#66B4FF"/>
<text transform="translate(626.3,859.46) scale(0.82,1)" font-size="21" text-anchor="middle" fill="#000" font-weight="bold" letter-spacing="-0.6">S51</text>
<rect x="1051.75" y="899.7" width="41.5" height="27" rx="13.5" fill="#22B14C"/>
<text transform="translate(1072.5,920.66) scale(0.8,1)" font-size="21" text-anchor="middle" fill="#FFF" font-weight="bold">S3</text>
<rect x="1381.75" y="1031.2" width="41.5" height="27" rx="13.5" fill="#66B4FF"/>
<text transform="translate(1402.5,1052.15) scale(0.8,1)" font-size="21" text-anchor="middle" fill="#000" font-weight="bold">S5</text>
<rect x="409.95" y="1234" width="41.5" height="27" rx="13.5" fill="#A366AE"/>
<text transform="translate(431,1254.95) scale(0.82,1)" font-size="21" text-anchor="middle" fill="#FFF" font-weight="bold" letter-spacing="-0.6">S41</text>
<rect x="471.25" y="1234" width="41.5" height="27" rx="13.5" fill="#22B14C"/>
<text transform="translate(492,1254.95) scale(0.8,1)" font-size="21" text-anchor="middle" fill="#FFF" font-weight="bold">S3</text>
<rect x="574.25" y="1245.5" width="41.5" height="27" rx="13.5" fill="#66B4FF"/>
<text transform="translate(595.3,1266.45) scale(0.82,1)" font-size="21" text-anchor="middle" fill="#000" font-weight="bold" letter-spacing="-0.6">S51</text>
<rect x="616.75" y="1245.5" width="41.5" height="27" rx="13.5" fill="#A626A6"/>
<text transform="translate(637.5,1266.45) scale(0.8,1)" font-size="21" text-anchor="middle" fill="#FFF" font-weight="bold">S7</text>
<rect x="970.75" y="1200.5" width="41.5" height="27" rx="13.5" fill="#A626A6"/>
<text transform="translate(991.5,1221.45) scale(0.8,1)" font-size="21" text-anchor="middle" fill="#FFF" font-weight="bold">S7</text>
<rect x="1108.55" y="1214.7" width="41.5" height="27" rx="13.5" fill="#22B14C"/>
<text transform="translate(1129.3,1235.65) scale(0.8,1)" font-size="21" text-anchor="middle" fill="#FFF" font-weight="bold">S3</text>
<rect x="758.45" y="1361" width="41.5" height="27" rx="13.5" fill="#66B4FF"/>
<text transform="translate(779.2,1381.95) scale(0.8,1)" font-size="21" text-anchor="middle" fill="#000" font-weight="bold">S5</text>
<rect x="838.25" y="1360.8" width="41.5" height="27" rx="13.5" fill="#0772BE"/>
<text transform="translate(859,1381.75) scale(0.8,1)" font-size="21" text-anchor="middle" fill="#FFF" font-weight="bold">S2</text>
<rect x="1079.95" y="1446.2" width="41.5" height="27" rx="13.5" fill="#FF7F00"/>
<text transform="translate(1100.7,1467.15) scale(0.8,1)" font-size="21" text-anchor="middle" fill="#FFF" font-weight="bold">S6</text>
<rect x="1122.75" y="1446.2" width="41.5" height="27" rx="13.5" fill="#EDAA18"/>
<text transform="translate(1143.5,1467.15) scale(0.8,1)" font-size="21" text-anchor="middle" fill="#000" font-weight="bold">S8</text>
<rect x="1165.25" y="1446.2" width="41.5" height="27" rx="13.5" fill="#B92645"/>
<text transform="translate(1186.3,1467.15) scale(0.82,1)" font-size="21" text-anchor="middle" fill="#FFF" font-weight="bold" letter-spacing="-0.6">S11</text>
<rect x="1070.95" y="1601.2" width="41.5" height="27" rx="13.5" fill="#22B14C"/>
<text transform="translate(1091.7,1622.15) scale(0.8,1)" font-size="21" text-anchor="middle" fill="#FFF" font-weight="bold">S3</text>
<rect x="1113.25" y="1601.2" width="41.5" height="27" rx="13.5" fill="#A366AE"/>
<text transform="translate(1134,1622.15) scale(0.8,1)" font-size="21" text-anchor="middle" fill="#FFF" font-weight="bold">S4</text>
<rect x="1155.25" y="1601.2" width="41.5" height="27" rx="13.5" fill="#0C7F32"/>
<text transform="translate(1176,1622.15) scale(0.8,1)" font-size="21" text-anchor="middle" fill="#FFF" font-weight="bold">S9</text>
<rect x="1048.45" y="1643.7" width="41.5" height="27" rx="13.5" fill="#A626A6"/>
<text transform="translate(1069.2,1664.65) scale(0.8,1)" font-size="21" text-anchor="middle" fill="#FFF" font-weight="bold">S7</text>
<rect x="548.45" y="1720.7" width="41.5" height="27" rx="13.5" fill="#A366AE"/>
<text transform="translate(569.5,1741.65) scale(0.82,1)" font-size="21" text-anchor="middle" fill="#FFF" font-weight="bold" letter-spacing="-0.6">S41</text>
<rect x="590.75" y="1720.7" width="41.5" height="27" rx="13.5" fill="#66B4FF"/>
<text transform="translate(611.5,1741.65) scale(0.8,1)" font-size="21" text-anchor="middle" fill="#000" font-weight="bold">S5</text>
<rect x="633.25" y="1720.7" width="41.5" height="27" rx="13.5" fill="#B92645"/>
<text transform="translate(654,1741.65) scale(0.8,1)" font-size="21" text-anchor="middle" fill="#FFF" font-weight="bold">S1</text>
<rect x="557.95" y="1794" width="41.5" height="27" rx="13.5" fill="#A626A6"/>
<text transform="translate(578.7,1814.95) scale(0.8,1)" font-size="21" text-anchor="middle" fill="#FFF" font-weight="bold">S7</text>
<rect x="179.7" y="372.5" width="176.3" height="26.2" rx="13.1" fill="#FFF" stroke="#0C7F32" stroke-width="2"/>
<rect x="178.7" y="371.5" width="42.5" height="28.2" rx="14.1" fill="#0C7F32"/>
<text transform="translate(199.95,393.06) scale(0.8,1)" font-size="21" text-anchor="middle" fill="#FFF" font-weight="bold">S9</text>
<text transform="translate(223.9,391.9) scale(0.81,1)" font-size="18" text-anchor="start" fill="#4A4A4A" font-weight="bold">Trostberg</text>
<text transform="translate(295.19,391.9) scale(0.84,1)" font-size="18" text-anchor="start" fill="#5A5A5A">S-Bahn</text>
<rect x="792" y="487" width="218.5" height="24.7" rx="12.35" fill="#FFF" stroke="#B92645" stroke-width="2"/>
<rect x="791" y="486" width="42.5" height="26.7" rx="13.35" fill="#B92645"/>
<text transform="translate(812.25,506.81) scale(0.8,1)" font-size="21" text-anchor="middle" fill="#FFF" font-weight="bold">S1</text>
<text transform="translate(836.2,505.65) scale(0.81,1)" font-size="18" text-anchor="start" fill="#4A4A4A" font-weight="bold">Lamprechtshausen</text>
<text transform="translate(973.94,505.65) scale(0.84,1)" font-size="18" text-anchor="start" fill="#5A5A5A">Bhf</text>
<rect x="1179.7" y="486.5" width="106.8" height="25" rx="12.5" fill="#FFF" stroke="#0772BE" stroke-width="2"/>
<rect x="1178.7" y="485.5" width="42.5" height="27" rx="13.5" fill="#0772BE"/>
<text transform="translate(1200.25,506.45) scale(0.82,1)" font-size="21" text-anchor="middle" fill="#FFF" font-weight="bold" letter-spacing="-0.6">S23</text>
<text transform="translate(1223.9,505.3) scale(0.81,1)" font-size="18" text-anchor="start" fill="#4A4A4A" font-weight="bold">Höcken</text>
<rect x="277" y="834" width="217.7" height="25.7" rx="12.85" fill="#FFF" stroke="#0772BE" stroke-width="2"/>
<rect x="276" y="833" width="42.5" height="27.7" rx="13.85" fill="#0772BE"/>
<text transform="translate(297.55,854.31) scale(0.82,1)" font-size="21" text-anchor="middle" fill="#FFF" font-weight="bold" letter-spacing="-0.6">S22</text>
<text transform="translate(321.2,853.15) scale(0.81,1)" font-size="18" text-anchor="start" fill="#4A4A4A" font-weight="bold">Waging am See</text>
<text transform="translate(432.47,853.15) scale(0.84,1)" font-size="18" text-anchor="start" fill="#5A5A5A">S-Bahn</text>
<rect x="618.2" y="1145" width="156.8" height="25" rx="12.5" fill="#FFF" stroke="#0772BE" stroke-width="2"/>
<rect x="617.2" y="1144" width="42.5" height="27" rx="13.5" fill="#0772BE"/>
<text transform="translate(638.75,1164.95) scale(0.82,1)" font-size="21" text-anchor="middle" fill="#FFF" font-weight="bold" letter-spacing="-0.6">S23</text>
<text transform="translate(662.4,1163.8) scale(0.81,1)" font-size="18" text-anchor="start" fill="#4A4A4A" font-weight="bold">Maxglan</text>
<text transform="translate(724.79,1163.8) scale(0.84,1)" font-size="18" text-anchor="start" fill="#5A5A5A">Stiegl</text>
<rect x="129.5" y="1202.5" width="230.5" height="24.7" rx="12.35" fill="#FFF" stroke="#0772BE" stroke-width="2"/>
<rect x="128.5" y="1201.5" width="42.5" height="26.7" rx="13.35" fill="#0772BE"/>
<text transform="translate(150.05,1222.3) scale(0.82,1)" font-size="21" text-anchor="middle" fill="#FFF" font-weight="bold" letter-spacing="-0.6">S24</text>
<text transform="translate(173.7,1221.15) scale(0.81,1)" font-size="18" text-anchor="start" fill="#4A4A4A" font-weight="bold">Rauschbergbahn</text>
<text transform="translate(296.84,1221.15) scale(0.84,1)" font-size="18" text-anchor="start" fill="#5A5A5A">S-Bahn</text>
<rect x="1220" y="862.5" width="104.5" height="25" rx="12.5" fill="#FFF" stroke="#CC6699" stroke-width="2"/>
<rect x="1219" y="861.5" width="42.5" height="27" rx="13.5" fill="#CC6699"/>
<text transform="translate(1240.55,882.46) scale(0.82,1)" font-size="21" text-anchor="middle" fill="#FFF" font-weight="bold" letter-spacing="-0.6">S10</text>
<text transform="translate(1264.2,881.3) scale(0.81,1)" font-size="18" text-anchor="start" fill="#4A4A4A" font-weight="bold">Fuschl</text>
<rect x="1225" y="910" width="164" height="25" rx="12.5" fill="#FFF" stroke="#66B4FF" stroke-width="2"/>
<rect x="1224" y="909" width="42.5" height="27" rx="13.5" fill="#66B4FF"/>
<text transform="translate(1245.55,929.96) scale(0.82,1)" font-size="21" text-anchor="middle" fill="#000" font-weight="bold" letter-spacing="-0.6">S52</text>
<text transform="translate(1269.2,928.8) scale(0.81,1)" font-size="18" text-anchor="start" fill="#4A4A4A" font-weight="bold">Bad Ischl</text>
<text transform="translate(1338.07,928.8) scale(0.84,1)" font-size="18" text-anchor="start" fill="#5A5A5A">Katrin</text>
<rect x="1128.5" y="998.5" width="209.5" height="24.7" rx="12.35" fill="#FFF" stroke="#EDAA18" stroke-width="2"/>
<rect x="1127.5" y="997.5" width="42.5" height="26.7" rx="13.35" fill="#EDAA18"/>
<text transform="translate(1148.75,1018.31) scale(0.8,1)" font-size="21" text-anchor="middle" fill="#000" font-weight="bold">S8</text>
<text transform="translate(1172.7,1017.15) scale(0.81,1)" font-size="18" text-anchor="start" fill="#4A4A4A" font-weight="bold">Gaisberg</text>
<text transform="translate(1239.95,1017.15) scale(0.84,1)" font-size="18" text-anchor="start" fill="#5A5A5A">Bergbahnhof</text>
<rect x="1319.5" y="1381" width="165" height="24.7" rx="12.35" fill="#FFF" stroke="#66B4FF" stroke-width="2"/>
<rect x="1318.5" y="1380" width="42.5" height="26.7" rx="13.35" fill="#66B4FF"/>
<text transform="translate(1339.75,1400.8) scale(0.8,1)" font-size="21" text-anchor="middle" fill="#000" font-weight="bold">S5</text>
<text transform="translate(1363.7,1399.65) scale(0.81,1)" font-size="18" text-anchor="start" fill="#4A4A4A" font-weight="bold">Bad Aussee</text>
<text transform="translate(1450.67,1399.65) scale(0.84,1)" font-size="18" text-anchor="start" fill="#5A5A5A">Bhf</text>
<rect x="184.5" y="1550" width="156.5" height="25" rx="12.5" fill="#FFF" stroke="#A626A6" stroke-width="2"/>
<rect x="183.5" y="1549" width="42.5" height="27" rx="13.5" fill="#A626A6"/>
<text transform="translate(204.75,1569.95) scale(0.8,1)" font-size="21" text-anchor="middle" fill="#FFF" font-weight="bold">S7</text>
<text transform="translate(228.7,1568.8) scale(0.81,1)" font-size="18" text-anchor="start" fill="#4A4A4A" font-weight="bold">Saalfelden</text>
<text transform="translate(305.68,1568.8) scale(0.84,1)" font-size="18" text-anchor="start" fill="#5A5A5A">Bhf</text>
<rect x="357" y="1607" width="161.5" height="24.7" rx="12.35" fill="#FFF" stroke="#A626A6" stroke-width="2"/>
<rect x="356" y="1606" width="42.5" height="26.7" rx="13.35" fill="#A626A6"/>
<text transform="translate(377.55,1626.8) scale(0.82,1)" font-size="21" text-anchor="middle" fill="#FFF" font-weight="bold" letter-spacing="-0.6">S73</text>
<text transform="translate(401.2,1625.65) scale(0.81,1)" font-size="18" text-anchor="start" fill="#4A4A4A" font-weight="bold">Saalfelden</text>
<text transform="translate(478.18,1625.65) scale(0.84,1)" font-size="18" text-anchor="start" fill="#5A5A5A">HTL</text>
<rect x="116" y="1842.5" width="134" height="24.5" rx="12.25" fill="#FFF" stroke="#A626A6" stroke-width="2"/>
<rect x="115" y="1841.5" width="42.5" height="26.5" rx="13.25" fill="#A626A6"/>
<text transform="translate(136.55,1862.2) scale(0.82,1)" font-size="21" text-anchor="middle" fill="#FFF" font-weight="bold" letter-spacing="-0.6">S73</text>
<text transform="translate(160.2,1861.05) scale(0.81,1)" font-size="18" text-anchor="start" fill="#4A4A4A" font-weight="bold">Krimml</text>
<text transform="translate(214.48,1861.05) scale(0.84,1)" font-size="18" text-anchor="start" fill="#5A5A5A">Bhf</text>
<rect x="305" y="1908" width="106" height="25" rx="12.5" fill="#FFF" stroke="#A626A6" stroke-width="2"/>
<rect x="304" y="1907" width="42.5" height="27" rx="13.5" fill="#A626A6"/>
<text transform="translate(325.55,1927.95) scale(0.82,1)" font-size="21" text-anchor="middle" fill="#FFF" font-weight="bold" letter-spacing="-0.6">S74</text>
<text transform="translate(349.2,1926.8) scale(0.81,1)" font-size="18" text-anchor="start" fill="#4A4A4A" font-weight="bold">Kaprun</text>
<rect x="1254" y="1664" width="165" height="25" rx="12.5" fill="#FFF" stroke="#A626A6" stroke-width="2"/>
<rect x="1253" y="1663" width="42.5" height="27" rx="13.5" fill="#A626A6"/>
<text transform="translate(1274.55,1683.95) scale(0.82,1)" font-size="21" text-anchor="middle" fill="#FFF" font-weight="bold" letter-spacing="-0.6">S71</text>
<text transform="translate(1298.2,1682.8) scale(0.81,1)" font-size="18" text-anchor="start" fill="#4A4A4A" font-weight="bold">Schladming</text>
<text transform="translate(1384.88,1682.8) scale(0.84,1)" font-size="18" text-anchor="start" fill="#5A5A5A">Bhf</text>
<rect x="977" y="1904" width="135.5" height="24.7" rx="12.35" fill="#FFF" stroke="#A626A6" stroke-width="2"/>
<rect x="976" y="1903" width="42.5" height="26.7" rx="13.35" fill="#A626A6"/>
<text transform="translate(997.55,1923.8) scale(0.82,1)" font-size="21" text-anchor="middle" fill="#FFF" font-weight="bold" letter-spacing="-0.6">S72</text>
<text transform="translate(1021.2,1922.65) scale(0.81,1)" font-size="18" text-anchor="start" fill="#4A4A4A" font-weight="bold">Mallnitz</text>
<text transform="translate(1078.71,1922.65) scale(0.84,1)" font-size="18" text-anchor="start" fill="#5A5A5A">Bhf</text>
<g transform="translate(1182.5,1820) rotate(-44.59)">
<rect x="-12.6" y="-12.6" width="142.72" height="25.2" rx="12.6" fill="#FFF" stroke="#0C7F32" stroke-width="2.3"/>
<rect x="-13.75" y="-13.75" width="46" height="27.5" rx="13.75" fill="#0C7F32"/>
<text transform="translate(9.75,7.1) scale(0.76,1)" font-size="20" text-anchor="middle" fill="#FFF" font-weight="bold" letter-spacing="-0.6">StLB</text>
<text transform="translate(35.25,6.23) scale(0.81,1)" font-size="17.8" text-anchor="start" fill="#4A4A4A" font-weight="bold">Mauterndorf</text>
</g>
<g transform="translate(1226.2,1862.5) rotate(-45.28)">
<rect x="-12.6" y="-12.6" width="126.53" height="25.2" rx="12.6" fill="#FFF" stroke="#0C7F32" stroke-width="2.3"/>
<rect x="-13.75" y="-13.75" width="46" height="27.5" rx="13.75" fill="#0C7F32"/>
<text transform="translate(9.75,7.1) scale(0.76,1)" font-size="20" text-anchor="middle" fill="#FFF" font-weight="bold" letter-spacing="-0.6">StLB</text>
<text transform="translate(35.25,6.23) scale(0.81,1)" font-size="17.8" text-anchor="start" fill="#4A4A4A" font-weight="bold">Tamsweg</text>
</g>
<g transform="translate(1347.5,1882.5) rotate(-45.69)">
<rect x="-12.6" y="-12.6" width="102.07" height="25.2" rx="12.6" fill="#FFF" stroke="#0C7F32" stroke-width="2.3"/>
<rect x="-13.75" y="-13.75" width="46" height="27.5" rx="13.75" fill="#0C7F32"/>
<text transform="translate(9.75,7.1) scale(0.76,1)" font-size="20" text-anchor="middle" fill="#FFF" font-weight="bold" letter-spacing="-0.6">StLB</text>
<text transform="translate(35.25,6.23) scale(0.81,1)" font-size="17.8" text-anchor="start" fill="#4A4A4A" font-weight="bold">Murau</text>
</g>
<g transform="translate(1413.7,1918.7) rotate(-45.16)">
<rect x="-12.6" y="-12.6" width="126.32" height="25.2" rx="12.6" fill="#FFF" stroke="#0C7F32" stroke-width="2.3"/>
<rect x="-13.75" y="-13.75" width="46" height="27.5" rx="13.75" fill="#0C7F32"/>
<text transform="translate(9.75,7.1) scale(0.76,1)" font-size="20" text-anchor="middle" fill="#FFF" font-weight="bold" letter-spacing="-0.6">StLB</text>
<text transform="translate(35.25,6.23) scale(0.81,1)" font-size="17.8" text-anchor="start" fill="#4A4A4A" font-weight="bold">Unzmarkt</text>
</g>
<text transform="translate(367.5,139) scale(0.8,1)" font-size="17" text-anchor="middle" fill="#6A6A6A" font-weight="bold">Landshut</text>
<text transform="translate(207.5,185.8) scale(0.8,1)" font-size="17" text-anchor="middle" fill="#6A6A6A" font-weight="bold">München</text>
<text transform="translate(1317.5,250) scale(0.8,1)" font-size="17" text-anchor="middle" fill="#6A6A6A" font-weight="bold">Ried</text>
<text transform="translate(1317.5,270) scale(0.8,1)" font-size="17" text-anchor="middle" fill="#6A6A6A" font-weight="bold">im Innkreis</text>
<text transform="translate(1468,345.5) scale(0.8,1)" font-size="17" text-anchor="middle" fill="#6A6A6A" font-weight="bold">Linz</text>
<text transform="translate(1461,720) rotate(-90) scale(0.8,1)" font-size="17" text-anchor="middle" fill="#6A6A6A" font-weight="bold">Vorchdorf</text>
<text transform="translate(195,987.5) rotate(-90) scale(0.8,1)" font-size="17" text-anchor="middle" fill="#6A6A6A" font-weight="bold">München</text>
<text transform="translate(193,1506) scale(0.8,1)" font-size="17" text-anchor="middle" fill="#6A6A6A" font-weight="bold">Wörgl</text>
<text transform="translate(1059,1974) scale(0.8,1)" font-size="17" text-anchor="middle" fill="#6A6A6A" font-weight="bold">Klagenfurt</text>
<text transform="translate(1450,1607) scale(0.8,1)" font-size="17" text-anchor="middle" fill="#6A6A6A" font-weight="bold">Selzthal</text>
<text transform="translate(1004.5,1105) rotate(-90) scale(0.84,1)" font-size="19.5" text-anchor="start" fill="#000" font-weight="bold">Innenstadt-Tunnel</text>
<text transform="translate(1004.5,1170) rotate(-90) scale(0.84,1)" font-size="19.5" text-anchor="start" fill="#CC0000" font-weight="bold">3,3 km</text>
<text transform="translate(706.6,1963.6) scale(0.82,1)" font-size="16.5" text-anchor="middle" fill="#000">Konzeption &amp; Gestaltung © Verein „Die Rote Elektrische” und „Austria-In-Motion”</text>
<text transform="translate(706.6,1982.3) scale(0.82,1)" font-size="16.5" text-anchor="middle" fill="#000">Satz- und Druckfehler vorbehalten - Es besteht kein Anspruch auf Vollständigkeit.</text>
<text transform="translate(706.6,2001.4) scale(0.82,1)" font-size="16.5" text-anchor="middle" fill="#000">Es werden nicht alle Haltestellen und Stationen angezeigt!</text>
<text transform="translate(720.7,1936.6) scale(0.75,1)" font-size="29.3" text-anchor="middle" fill="#000">08/2020</text>
<g fill="#CC0000" stroke="#CC0000" stroke-width="0.9" stroke-linejoin="round" font-weight="bold" font-style="italic">
<text transform="translate(128.5,238.7) skewX(-9) scale(0.58,1)" font-size="33">P</text>
<text transform="translate(141.5,238.7) skewX(-9) scale(0.57,1)" font-size="23.6" letter-spacing="0.3">ROJEKT:</text>
</g>
<g transform="translate(205,200) scale(0.0625)" fill="#CC0000" fill-rule="evenodd">
<path d="M85,715 L520,110 L640,110 L490,620 L400,620 L414,555 L300,555 L190,715 Z M355,490 L492,300 L447,490 Z"/>
<path d="M447,440 L515,510 L400,600 L440,520 Z"/>
<path d="M545,620 L660,110 L845,110 L868,135 L838,285 L805,330 L822,365 L775,590 L745,620 Z M742,190 L782,190 L757,315 L714,315 Z M700,395 L742,395 L710,545 L667,545 Z"/>
<path d="M955,110 L1145,110 L1112,268 L1030,268 L1044,195 L1010,195 L985,325 L1070,325 L1012,590 L985,620 L815,620 L850,470 L935,470 L916,555 L950,555 L985,400 L895,400 L950,135 Z"/>
<path d="M1190,265 L1370,265 L1337,400 L1314,425 L1326,450 L1290,600 L1266,620 L1095,620 L1110,555 L1212,555 L1232,468 L1150,468 L1165,405 L1248,405 L1265,330 L1175,330 Z"/>
<path d="M1385,265 L1550,265 L1518,400 L1497,425 L1510,450 L1478,600 L1455,620 L1297,620 L1326,468 L1345,440 L1333,415 L1365,285 Z M1440,330 L1472,330 L1455,405 L1423,405 Z M1407,468 L1440,468 L1420,555 L1387,555 Z"/>
</g>
<g transform="translate(493.7,219.3) scale(0.0625)" fill="#CC0000" fill-rule="evenodd">
<path d="M85,715 L520,110 L640,110 L490,620 L400,620 L414,555 L300,555 L190,715 Z M355,490 L492,300 L447,490 Z"/>
<path d="M447,440 L515,510 L400,600 L440,520 Z"/>
<path d="M545,620 L660,110 L845,110 L868,135 L838,285 L805,330 L822,365 L775,590 L745,620 Z M742,190 L782,190 L757,315 L714,315 Z M700,395 L742,395 L710,545 L667,545 Z"/>
<path d="M955,110 L1145,110 L1112,268 L1030,268 L1044,195 L1010,195 L985,325 L1070,325 L1012,590 L985,620 L815,620 L850,470 L935,470 L916,555 L950,555 L985,400 L895,400 L950,135 Z"/>
<path d="M1190,265 L1370,265 L1337,400 L1314,425 L1326,450 L1290,600 L1266,620 L1095,620 L1110,555 L1212,555 L1232,468 L1150,468 L1165,405 L1248,405 L1265,330 L1175,330 Z"/>
<path d="M1385,265 L1550,265 L1518,400 L1497,425 L1510,450 L1478,600 L1455,620 L1297,620 L1326,468 L1345,440 L1333,415 L1365,285 Z M1440,330 L1472,330 L1455,405 L1423,405 Z M1407,468 L1440,468 L1420,555 L1387,555 Z"/>
</g>
<g transform="translate(522.2,661.3) scale(0.0625)" fill="#CC0000" fill-rule="evenodd">
<path d="M85,715 L520,110 L640,110 L490,620 L400,620 L414,555 L300,555 L190,715 Z M355,490 L492,300 L447,490 Z"/>
<path d="M447,440 L515,510 L400,600 L440,520 Z"/>
<path d="M545,620 L660,110 L845,110 L868,135 L838,285 L805,330 L822,365 L775,590 L745,620 Z M742,190 L782,190 L757,315 L714,315 Z M700,395 L742,395 L710,545 L667,545 Z"/>
<path d="M955,110 L1145,110 L1112,268 L1030,268 L1044,195 L1010,195 L985,325 L1070,325 L1012,590 L985,620 L815,620 L850,470 L935,470 L916,555 L950,555 L985,400 L895,400 L950,135 Z"/>
<path d="M1190,265 L1370,265 L1337,400 L1314,425 L1326,450 L1290,600 L1266,620 L1095,620 L1110,555 L1212,555 L1232,468 L1150,468 L1165,405 L1248,405 L1265,330 L1175,330 Z"/>
<path d="M1385,265 L1550,265 L1518,400 L1497,425 L1510,450 L1478,600 L1455,620 L1297,620 L1326,468 L1345,440 L1333,415 L1365,285 Z M1440,330 L1472,330 L1455,405 L1423,405 Z M1407,468 L1440,468 L1420,555 L1387,555 Z"/>
</g>
<path d="M814.7,1540 C811.42,1541.5 800.87,1545.08 795,1549 C789.13,1552.92 785.33,1556.33 779.5,1563.5 C773.67,1570.67 764.3,1581.25 760,1592 C755.7,1602.75 753.7,1616.5 753.7,1628 C753.7,1639.5 755.7,1650.25 760,1661 C764.3,1671.75 772.88,1684.45 779.5,1692.5 C786.12,1700.55 796.33,1706.5 799.7,1709.3 L799.7,1694.3  C803.08,1695.5 814.12,1700.1 820,1701.5 C825.88,1702.9 830,1703.2 835,1702.7 C840,1702.2 845.5,1700.95 850,1698.5 C854.5,1696.05 859.3,1691.75 862,1688 C864.7,1684.25 866.2,1680.25 866.2,1676 C866.2,1671.75 864.7,1667.25 862,1662.5 C859.3,1657.75 854.5,1652.25 850,1647.5 C845.5,1642.75 840,1638.5 835,1634 C830,1629.5 825,1625.5 820,1620.5 C815,1615.5 808.75,1609 805,1604 C801.25,1599 799.25,1595.25 797.5,1590.5 C795.75,1585.75 794.5,1580.5 794.5,1575.5 C794.5,1570.5 795.75,1565 797.5,1560.5 C799.25,1556 802.13,1551.92 805,1548.5 C807.87,1545.08 813.08,1541.42 814.7,1540 Z" fill="#1A6DAC"/>
<path d="M889,1544 C892.5,1546.25 903.5,1551.5 910,1557.5 C916.5,1563.5 923.25,1571.75 928,1580 C932.75,1588.25 936.25,1598.5 938.5,1607 C940.75,1615.5 941.75,1622.5 941.5,1631 C941.25,1639.5 939.75,1649.5 937,1658 C934.25,1666.5 930.75,1674.25 925,1682 C919.25,1689.75 910,1698.75 902.5,1704.5 C895,1710.25 888.38,1713.5 880,1716.5 C871.62,1719.5 856.83,1721.5 852.2,1722.5 C855.58,1721 866.62,1717.25 872.5,1713.5 C878.38,1709.75 883.5,1705.25 887.5,1700 C891.5,1694.75 894.88,1687.5 896.5,1682 C898.12,1676.5 897.95,1672 897.2,1667 C896.45,1662 894.87,1657 892,1652 C889.13,1647 884.5,1641.75 880,1637 C875.5,1632.25 870,1628 865,1623.5 C860,1619 855,1614.75 850,1610 C845,1605.25 838.75,1599.5 835,1595 C831.25,1590.5 829,1586.75 827.5,1583 C826,1579.25 825.5,1576 826,1572.5 C826.5,1569 828,1565 830.5,1562 C833,1559 836.5,1556.38 841,1554.5 C845.5,1552.62 852,1551.08 857.5,1550.7 C863,1550.32 868.75,1551.07 874,1552.2 C879.25,1553.33 886.5,1556.62 889,1557.5 Z" fill="#C60A27"/>
<path d="M714,1910 C712.92,1908.58 713,1906.67 713.5,1904 C714,1901.33 715.08,1896.92 717,1894 C718.92,1891.08 722.17,1888.13 725,1886.5 C727.83,1884.87 731,1884.28 734,1884.2 C737,1884.12 740.33,1885.12 743,1886 C745.67,1886.88 748.17,1888.42 750,1889.5 C751.83,1890.58 754.33,1892.33 754,1892.5 C753.67,1892.67 750,1890.67 748,1890.5 C746,1890.33 743.83,1890.75 742,1891.5 C740.17,1892.25 738.33,1893.58 737,1895 C735.67,1896.42 735,1898 734,1900 C733,1902 731.92,1905 731,1907 C730.08,1909 730.33,1911.08 728.5,1912 C726.67,1912.92 722.42,1912.83 720,1912.5 C717.58,1912.17 715.08,1911.42 714,1910" fill="#0000A8"/>
<path d="M730,1911.5 C729.33,1910.58 732,1907.08 733,1905 C734,1902.92 734.83,1900.83 736,1899 C737.17,1897.17 738.33,1895.2 740,1894 C741.67,1892.8 744,1891.97 746,1891.8 C748,1891.63 749.67,1891.8 752,1893 C754.33,1894.2 757.33,1897 760,1899 C762.67,1901 765.75,1903.42 768,1905 C770.25,1906.58 774,1908.08 773.5,1908.5 C773,1908.92 768.08,1907.92 765,1907.5 C761.92,1907.08 758.33,1906.17 755,1906 C751.67,1905.83 747.5,1906.08 745,1906.5 C742.5,1906.92 741.33,1907.83 740,1908.5 C738.67,1909.17 738.67,1910 737,1910.5 C735.33,1911 730.67,1912.42 730,1911.5" fill="#CC0000"/>
<polygon points="646.5,1898.5 651.5,1903 657,1902 660,1902.5 665.5,1898.5 665,1905 663,1910 660,1915 656,1919 652.5,1922.5 650.5,1920 648,1914 647,1910 647.5,1905" fill="#000"/>
<path d="M666,1909.2 C667,1908.07 669.33,1906.98 672,1906.2 C674.67,1905.42 679,1905.53 682,1904.5 C685,1903.47 687.83,1901 690,1900 C692.17,1899 693,1898.5 695,1898.5 C697,1898.5 699.5,1899.88 702,1900 C704.5,1900.12 709.67,1898.7 710,1899.2 C710.33,1899.7 705.67,1901.7 704,1903 C702.33,1904.3 701.67,1905.92 700,1907 C698.33,1908.08 696.33,1909.17 694,1909.5 C691.67,1909.83 688.67,1909.33 686,1909 C683.33,1908.67 680.33,1907.63 678,1907.5 C675.67,1907.37 673.58,1907.62 672,1908.2 C670.42,1908.78 669.3,1910.03 668.5,1911 C667.7,1911.97 667.62,1913.67 667.2,1914 C666.78,1914.33 666.2,1913.8 666,1913 C665.8,1912.2 665,1910.33 666,1909.2" fill="#000"/>
<text transform="translate(656.5,1929.5) rotate(-30) scale(0.95,1)" style="font-family:'Liberation Serif',serif;font-style:italic;font-weight:bold" font-size="19">RF</text>
</svg></body></html>
